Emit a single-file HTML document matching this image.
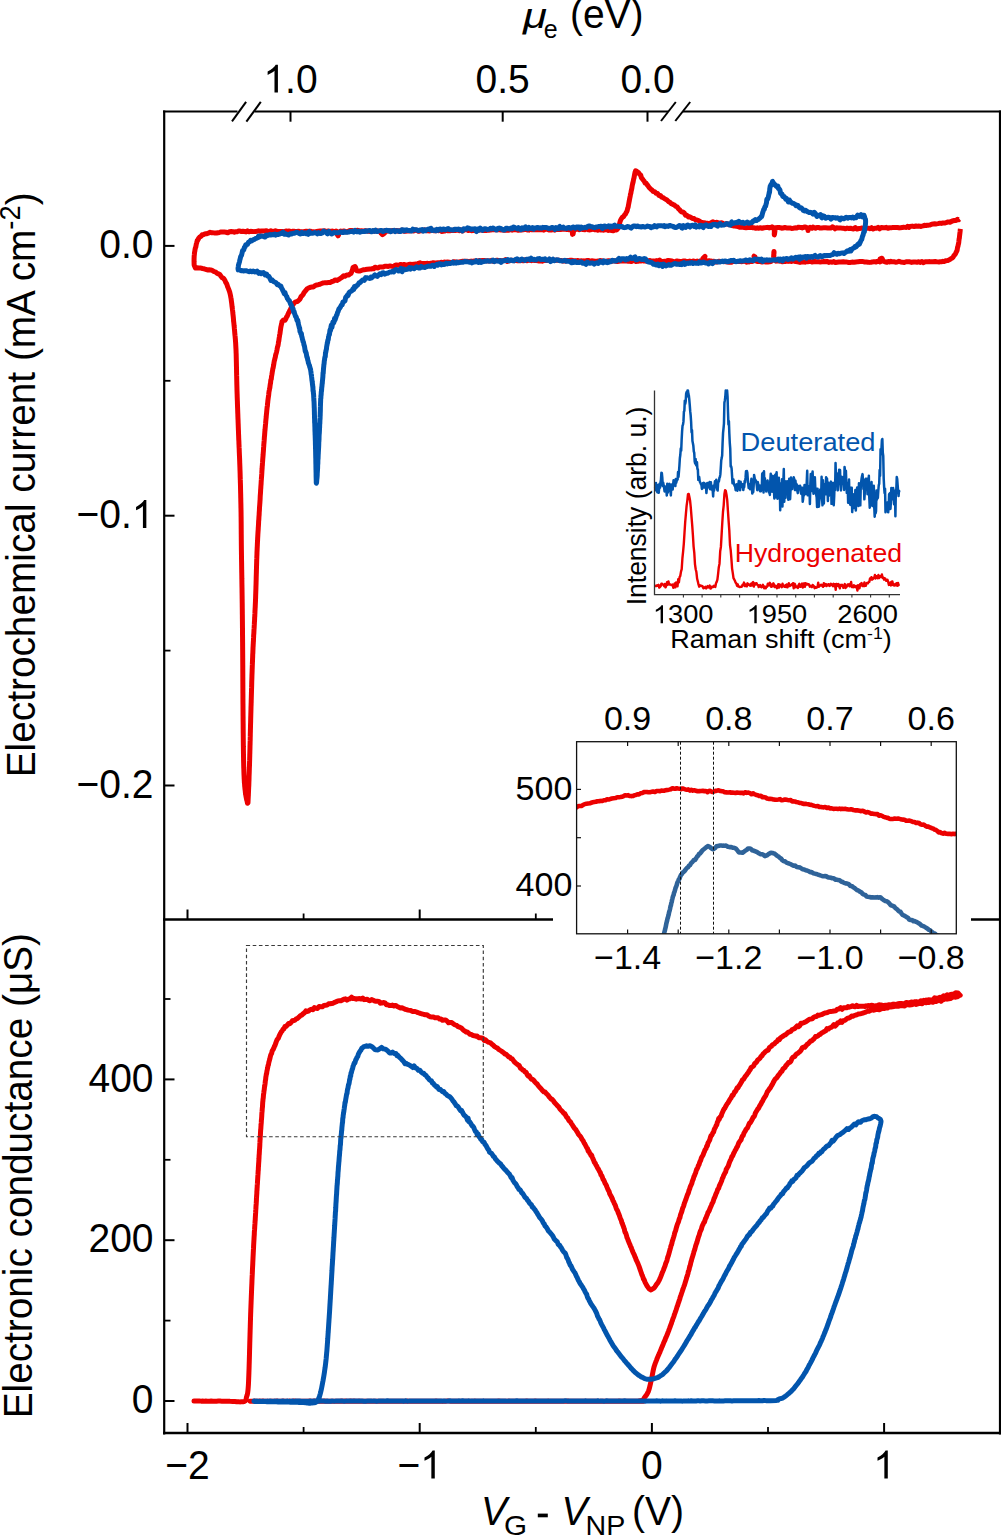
<!DOCTYPE html>
<html><head><meta charset="utf-8"><style>
html,body{margin:0;padding:0;background:#fff;overflow:hidden;}
svg{display:block;}
text{font-family:"Liberation Sans",sans-serif;fill:#000;}
</style></head><body>
<svg width="1001" height="1536" viewBox="0 0 1001 1536">
<rect width="1001" height="1536" fill="#fff"/>
<path d="M163,111.5 L237.5,111.5 M254.5,111.5 L668,111.5 M683,111.5 L1001,111.5" stroke="#000" stroke-width="2.2" fill="none"/>
<line x1="232" y1="121.3" x2="246.1" y2="101.8" stroke="#000" stroke-width="2"/>
<line x1="246.4" y1="121.7" x2="260.8" y2="101.8" stroke="#000" stroke-width="2"/>
<line x1="661" y1="121" x2="675.8" y2="102" stroke="#000" stroke-width="2"/>
<line x1="675.3" y1="121" x2="690.2" y2="102" stroke="#000" stroke-width="2"/>
<line x1="164.2" y1="110.5" x2="164.2" y2="1434.5" stroke="#000" stroke-width="2.2"/>
<line x1="1000" y1="110.5" x2="1000" y2="1434.5" stroke="#000" stroke-width="2.2"/>
<line x1="163" y1="919.5" x2="1001" y2="919.5" stroke="#000" stroke-width="2.4"/>
<line x1="163" y1="1433" x2="1001" y2="1433" stroke="#000" stroke-width="2.4"/>
<line x1="164" y1="245.9" x2="174.5" y2="245.9" stroke="#000" stroke-width="2"/>
<line x1="164" y1="515.7" x2="174.5" y2="515.7" stroke="#000" stroke-width="2"/>
<line x1="164" y1="785.5" x2="174.5" y2="785.5" stroke="#000" stroke-width="2"/>
<line x1="164" y1="380.8" x2="170.5" y2="380.8" stroke="#000" stroke-width="1.8"/>
<line x1="164" y1="650.6" x2="170.5" y2="650.6" stroke="#000" stroke-width="1.8"/>
<line x1="164" y1="1401.0" x2="174.5" y2="1401.0" stroke="#000" stroke-width="2"/>
<line x1="164" y1="1240.2" x2="174.5" y2="1240.2" stroke="#000" stroke-width="2"/>
<line x1="164" y1="1079.4" x2="174.5" y2="1079.4" stroke="#000" stroke-width="2"/>
<line x1="164" y1="1320.6" x2="170.5" y2="1320.6" stroke="#000" stroke-width="1.8"/>
<line x1="164" y1="1159.8" x2="170.5" y2="1159.8" stroke="#000" stroke-width="1.8"/>
<line x1="164" y1="999.0" x2="170.5" y2="999.0" stroke="#000" stroke-width="1.8"/>
<line x1="187.5" y1="1433" x2="187.5" y2="1423" stroke="#000" stroke-width="2"/>
<line x1="187.5" y1="919.5" x2="187.5" y2="909.5" stroke="#000" stroke-width="2"/>
<line x1="419.7" y1="1433" x2="419.7" y2="1423" stroke="#000" stroke-width="2"/>
<line x1="419.7" y1="919.5" x2="419.7" y2="909.5" stroke="#000" stroke-width="2"/>
<line x1="651.9" y1="1433" x2="651.9" y2="1423" stroke="#000" stroke-width="2"/>
<line x1="651.9" y1="919.5" x2="651.9" y2="909.5" stroke="#000" stroke-width="2"/>
<line x1="884.1" y1="1433" x2="884.1" y2="1423" stroke="#000" stroke-width="2"/>
<line x1="884.1" y1="919.5" x2="884.1" y2="909.5" stroke="#000" stroke-width="2"/>
<line x1="303.6" y1="1433" x2="303.6" y2="1427" stroke="#000" stroke-width="1.8"/>
<line x1="303.6" y1="919.5" x2="303.6" y2="913.5" stroke="#000" stroke-width="1.8"/>
<line x1="535.8" y1="1433" x2="535.8" y2="1427" stroke="#000" stroke-width="1.8"/>
<line x1="535.8" y1="919.5" x2="535.8" y2="913.5" stroke="#000" stroke-width="1.8"/>
<line x1="768.0" y1="1433" x2="768.0" y2="1427" stroke="#000" stroke-width="1.8"/>
<line x1="768.0" y1="919.5" x2="768.0" y2="913.5" stroke="#000" stroke-width="1.8"/>
<line x1="290.5" y1="111.5" x2="290.5" y2="121.7" stroke="#000" stroke-width="2"/>
<line x1="502.7" y1="111.5" x2="502.7" y2="121.7" stroke="#000" stroke-width="2"/>
<line x1="647.5" y1="111.5" x2="647.5" y2="121.7" stroke="#000" stroke-width="2"/>
<path d="M959.60,219.03 L958.68,219.71 L957.50,219.32 L956.05,220.43 L954.33,220.49 L952.31,221.00 L950.00,222.26 L948.80,221.89 L947.50,222.08 L946.09,222.61 L944.61,223.03 L943.07,222.90 L941.47,223.40 L939.83,223.14 L938.17,223.63 L936.49,223.88 L934.83,223.83 L933.18,224.02 L931.57,224.21 L930.00,224.92 L928.52,225.14 L927.12,225.28 L925.79,225.59 L924.50,225.27 L923.22,225.87 L921.92,226.13 L920.57,226.46 L919.15,226.04 L917.63,226.33 L915.98,225.90 L914.18,226.56 L912.19,226.10 L910.00,226.50 L908.82,227.45 L907.58,226.36 L906.29,227.48 L904.95,227.38 L903.56,227.22 L902.13,227.56 L900.67,227.65 L899.17,227.90 L897.63,227.52 L896.07,227.46 L894.49,227.52 L892.88,227.44 L891.25,227.83 L889.61,227.63 L887.96,228.34 L886.29,227.37 L884.63,227.69 L882.96,227.79 L881.30,227.44 L879.64,228.88 L877.99,227.41 L876.35,228.19 L874.73,228.14 L873.13,228.93 L871.55,227.68 L870.00,228.78 L868.45,228.16 L866.87,228.37 L865.27,228.20 L863.65,228.66 L862.01,228.04 L860.36,228.40 L858.70,228.55 L857.04,229.05 L855.37,227.55 L853.71,228.91 L852.04,228.69 L850.39,228.17 L848.75,228.42 L847.12,228.12 L845.51,228.84 L843.93,228.31 L842.37,228.13 L840.83,228.10 L839.33,228.09 L837.87,228.07 L836.44,227.80 L835.05,228.80 L833.71,227.39 L832.42,226.77 L831.18,227.97 L830.00,227.95 L827.76,228.09 L825.64,227.83 L823.65,227.79 L821.78,227.89 L820.03,228.03 L818.40,227.47 L816.88,227.43 L815.47,228.19 L814.17,227.67 L812.98,227.12 L811.89,228.29 L810.89,227.79 L810.00,227.39 L807.88,228.80 L808.00,230.60 L807.88,228.91 L806.00,227.23 L804.95,227.06 L803.63,227.30 L802.10,227.89 L800.42,227.41 L798.62,227.14 L796.78,227.97 L794.95,227.86 L793.17,228.21 L791.50,228.40 L790.00,227.94 L788.24,227.93 L786.50,227.92 L784.79,227.48 L783.16,228.03 L781.63,228.21 L780.24,227.72 L779.02,227.53 L778.00,227.51 L775.50,227.73 L775.11,229.33 L774.83,231.82 L774.58,233.79 L774.30,234.85 L774.26,233.52 L774.39,232.06 L774.15,229.60 L773.00,227.60 L771.98,226.87 L770.74,227.53 L769.29,227.92 L767.67,227.37 L765.90,227.60 L764.02,227.71 L762.04,228.23 L760.00,227.68 L758.68,228.31 L757.26,227.82 L755.76,228.21 L754.20,227.86 L752.59,227.72 L750.95,227.23 L749.30,227.44 L747.65,227.51 L746.01,227.75 L744.42,227.50 L742.87,227.05 L741.39,227.30 L740.00,227.35 L738.28,226.70 L736.63,226.28 L735.04,225.95 L733.50,225.99 L732.00,225.50 L730.54,224.59 L729.12,224.67 L727.73,224.01 L726.36,223.60 L725.00,224.03 L723.32,223.62 L721.65,222.84 L720.02,222.91 L718.44,222.89 L716.93,222.35 L715.51,222.44 L714.19,222.65 L713.00,221.77 L711.08,222.72 L709.62,223.30 L708.36,223.63 L707.00,223.13 L705.59,223.53 L704.23,222.74 L702.76,222.69 L701.00,222.01 L699.80,221.41 L698.46,220.52 L697.03,219.99 L695.55,219.87 L694.08,218.60 L692.64,218.43 L691.30,217.78 L689.81,216.74 L688.34,216.90 L686.92,215.30 L685.54,215.22 L684.23,212.94 L683.00,212.01 L681.69,212.11 L680.55,210.93 L679.47,209.52 L678.32,208.51 L677.00,206.73 L675.74,206.22 L674.39,205.10 L672.97,204.40 L671.50,203.78 L670.00,202.46 L668.50,201.53 L667.19,200.24 L665.83,199.39 L664.44,198.62 L663.05,197.52 L661.66,197.10 L660.31,195.41 L659.00,195.46 L657.52,193.45 L656.07,193.22 L654.66,191.64 L653.27,191.53 L651.92,189.98 L650.60,188.94 L649.48,187.97 L648.35,186.28 L647.24,184.88 L646.17,183.25 L645.16,183.12 L644.23,181.25 L643.40,180.19 L642.26,178.65 L641.41,177.76 L640.66,175.03 L639.80,174.49 L638.38,172.55 L636.89,171.50 L635.60,170.77 L635.10,172.15 L634.69,173.96 L634.33,175.96 L633.98,177.96 L633.61,179.20 L633.20,181.62 L632.89,182.99 L632.56,184.08 L632.22,185.67 L631.87,188.11 L631.53,189.62 L631.18,191.17 L630.84,193.31 L630.51,194.13 L630.20,196.18 L629.87,197.66 L629.56,199.29 L629.26,201.11 L628.96,202.59 L628.67,204.14 L628.39,205.57 L628.10,207.48 L627.80,207.89 L627.26,210.28 L626.75,211.59 L626.17,212.52 L625.40,214.28 L624.57,214.84 L623.60,216.64 L622.55,217.06 L621.52,218.40 L620.60,220.11 L620.03,221.78 L619.62,223.55 L619.25,225.40 L618.78,226.79 L618.07,228.06 L617.00,229.69 L615.92,230.11 L614.66,229.97 L613.25,230.77 L611.71,230.49 L610.09,230.01 L608.41,230.39 L606.70,229.67 L605.00,229.79 L603.63,230.23 L602.21,229.52 L600.75,230.03 L599.26,229.48 L597.75,230.15 L596.22,229.56 L594.67,229.81 L593.11,229.16 L591.55,229.51 L590.00,229.93 L588.38,229.72 L586.63,228.84 L584.82,229.72 L582.98,229.62 L581.16,229.10 L579.40,229.68 L577.77,228.82 L576.29,229.22 L575.02,229.77 L574.00,230.06 L572.43,231.85 L572.46,233.42 L572.50,234.38 L573.09,233.93 L573.69,230.88 L571.00,229.55 L570.13,229.04 L569.16,229.76 L568.08,229.61 L566.91,229.48 L565.65,229.26 L564.31,229.26 L562.89,229.15 L561.40,229.41 L559.84,229.40 L558.22,229.51 L556.55,229.25 L554.82,230.12 L553.06,229.61 L551.26,230.05 L549.43,230.08 L547.57,229.36 L545.69,229.13 L543.80,230.19 L541.90,229.65 L540.00,229.83 L538.72,229.72 L537.41,229.86 L536.07,229.40 L534.70,229.79 L533.31,229.67 L531.90,229.83 L530.46,229.02 L529.00,230.13 L527.53,229.97 L526.04,229.25 L524.53,229.60 L523.01,229.88 L521.47,230.09 L519.93,229.88 L518.38,230.37 L516.81,229.89 L515.24,229.54 L513.67,229.66 L512.10,230.16 L510.52,229.70 L508.94,230.21 L507.37,230.28 L505.79,230.14 L504.22,230.30 L502.66,229.89 L501.11,229.95 L499.56,229.76 L498.03,229.76 L496.51,229.44 L495.00,229.81 L493.49,229.64 L491.97,229.53 L490.43,230.09 L488.88,230.21 L487.33,229.95 L485.76,230.56 L484.19,230.43 L482.61,230.48 L481.03,229.92 L479.44,229.63 L477.86,230.37 L476.28,230.30 L474.70,230.46 L473.13,230.37 L471.56,230.68 L470.00,230.16 L468.46,230.51 L466.92,229.99 L465.40,229.51 L463.89,230.18 L462.40,230.88 L460.92,229.79 L459.47,230.75 L458.04,230.17 L456.63,230.28 L455.25,230.46 L453.89,230.53 L452.56,230.13 L451.27,230.53 L450.00,230.66 L448.17,230.81 L446.42,230.27 L444.74,231.10 L443.14,231.24 L441.59,231.44 L440.09,230.14 L438.63,230.68 L437.21,229.99 L435.81,230.79 L434.44,230.86 L433.07,230.28 L431.71,230.14 L430.35,230.78 L428.97,230.94 L427.57,230.46 L426.14,230.66 L424.68,229.88 L423.18,230.53 L421.62,230.84 L420.00,230.85 L418.59,231.36 L417.10,230.41 L415.55,230.02 L413.95,230.95 L412.30,230.58 L410.61,230.87 L408.90,231.00 L407.17,230.94 L405.42,231.22 L403.68,231.17 L401.94,230.10 L400.22,230.65 L398.52,231.36 L396.86,230.51 L395.24,230.99 L393.67,230.64 L392.16,230.52 L390.71,231.24 L389.35,231.08 L388.07,230.66 L386.89,231.11 L385.81,230.39 L384.84,230.67 L384.00,231.32 L381.09,233.26 L382.50,234.63 L384.22,233.49 L381.00,231.32 L380.13,231.59 L379.12,231.42 L377.96,230.93 L376.68,230.82 L375.29,230.90 L373.79,230.83 L372.21,231.39 L370.54,231.41 L368.81,231.32 L367.03,230.96 L365.20,230.74 L363.35,231.14 L361.47,230.70 L359.59,230.92 L357.71,230.27 L355.86,230.73 L354.03,231.41 L352.24,230.58 L350.51,230.45 L348.84,230.96 L347.25,231.66 L345.75,231.64 L344.35,231.07 L343.06,231.09 L341.90,231.30 L340.87,231.09 L340.00,231.51 L336.44,232.92 L337.22,234.49 L338.00,235.80 L338.59,234.91 L339.19,232.69 L336.00,231.11 L335.15,231.73 L334.19,232.01 L333.12,231.20 L331.96,231.11 L330.70,231.40 L329.37,231.13 L327.96,230.93 L326.48,231.70 L324.95,230.86 L323.36,230.98 L321.73,231.03 L320.06,230.98 L318.37,231.24 L316.65,231.56 L314.92,231.90 L313.19,231.67 L311.45,231.48 L309.73,231.06 L308.02,231.51 L306.34,231.23 L304.68,231.55 L303.07,231.94 L301.51,231.67 L300.00,231.53 L298.46,231.33 L296.91,231.57 L295.36,231.60 L293.82,231.22 L292.27,231.35 L290.72,231.81 L289.18,230.90 L287.63,231.30 L286.09,231.02 L284.55,231.94 L283.02,231.58 L281.48,231.52 L279.96,231.46 L278.43,231.39 L276.91,231.37 L275.40,230.69 L273.89,231.32 L272.39,231.42 L270.90,230.70 L269.41,231.49 L267.93,231.43 L266.46,230.66 L265.00,231.03 L263.40,231.10 L261.80,231.04 L260.20,231.38 L258.60,230.82 L257.00,231.22 L255.41,231.41 L253.81,231.62 L252.23,231.42 L250.66,231.35 L249.09,231.72 L247.54,230.83 L246.00,231.89 L244.47,231.50 L242.96,231.22 L241.47,231.56 L240.00,231.11 L238.55,231.09 L237.13,231.74 L235.72,231.63 L234.35,232.21 L233.00,231.69 L231.25,231.61 L229.51,231.78 L227.78,232.78 L226.06,232.24 L224.37,232.08 L222.71,232.00 L221.08,232.03 L219.50,232.42 L217.96,232.69 L216.48,233.02 L215.05,233.09 L213.69,232.87 L212.40,232.64 L211.18,232.67 L210.05,232.27 L209.00,232.84 L206.30,233.79 L204.42,234.03 L203.09,234.85 L202.04,234.87 L201.00,236.31 L199.55,237.20 L198.63,238.34 L197.80,240.14 L197.25,240.56 L196.72,242.72 L196.24,244.29 L195.79,246.97 L195.40,247.94 L195.06,249.40 L194.78,251.42 L194.54,252.32 L194.34,254.80 L194.20,255.75 L194.12,257.57 L194.07,259.03 L194.05,261.43 L194.07,262.11 L194.12,264.64 L194.20,265.31 L195.40,268.02 L196.85,267.70 L198.79,268.02 L201.00,268.07 L202.47,268.48 L204.10,268.77 L205.80,269.32 L207.46,269.92 L209.00,269.86 L210.73,270.04 L212.35,270.43 L213.89,271.60 L215.40,271.87 L216.89,273.21 L218.35,273.84 L219.73,274.54 L221.00,276.32 L222.13,277.77 L223.15,278.14 L224.09,279.08 L225.00,280.50 L225.70,282.39 L226.38,283.26 L227.02,284.81 L227.62,286.71 L228.20,288.00 L228.74,289.49 L229.24,290.66 L229.71,292.11 L230.16,294.06 L230.60,296.05 L230.83,297.47 L231.05,298.42 L231.27,300.12 L231.47,301.65 L231.68,303.07 L231.88,304.87 L232.08,306.72 L232.29,308.22 L232.50,310.03 L232.65,311.00 L232.81,312.86 L232.96,314.17 L233.12,315.60 L233.28,316.97 L233.45,319.03 L233.60,321.32 L233.76,322.19 L233.92,323.68 L234.07,325.41 L234.22,326.66 L234.36,328.48 L234.50,329.77 L234.63,331.26 L234.76,332.96 L234.89,334.29 L235.01,335.46 L235.14,336.50 L235.25,338.18 L235.37,339.05 L235.48,341.12 L235.59,342.25 L235.70,344.02 L235.80,346.10 L235.90,348.00 L236.00,349.55 L236.05,351.10 L236.09,352.55 L236.14,353.33 L236.18,354.21 L236.22,356.41 L236.26,357.85 L236.29,359.48 L236.33,360.86 L236.37,362.41 L236.40,364.01 L236.44,366.00 L236.47,367.29 L236.51,368.94 L236.54,370.25 L236.57,372.44 L236.61,373.64 L236.64,375.63 L236.68,376.30 L236.72,378.79 L236.75,380.33 L236.79,381.85 L236.83,384.10 L236.87,385.41 L236.91,386.82 L236.95,388.26 L237.00,390.66 L237.05,391.80 L237.09,393.31 L237.14,394.35 L237.19,396.61 L237.24,397.89 L237.29,399.14 L237.34,400.73 L237.39,401.74 L237.45,404.07 L237.50,405.00 L237.55,407.22 L237.61,408.31 L237.66,409.78 L237.72,411.67 L237.77,413.15 L237.83,414.22 L237.88,416.13 L237.94,417.90 L238.00,419.14 L238.06,420.30 L238.11,422.22 L238.17,423.51 L238.23,425.18 L238.28,426.94 L238.34,428.44 L238.40,429.93 L238.46,430.96 L238.52,433.20 L238.58,434.55 L238.64,436.01 L238.70,437.75 L238.77,439.90 L238.83,440.32 L238.90,441.75 L238.96,444.11 L239.03,445.11 L239.09,447.38 L239.16,448.12 L239.23,449.83 L239.29,451.83 L239.35,453.39 L239.42,454.77 L239.48,456.31 L239.55,457.65 L239.61,459.08 L239.67,460.70 L239.73,462.75 L239.78,464.09 L239.84,465.39 L239.90,467.03 L239.95,468.75 L240.00,470.41 L240.05,471.49 L240.10,473.05 L240.15,474.73 L240.19,477.06 L240.24,477.78 L240.28,479.67 L240.33,480.24 L240.37,482.60 L240.41,483.36 L240.46,485.01 L240.50,486.70 L240.54,488.41 L240.57,490.06 L240.61,491.67 L240.65,493.16 L240.69,494.46 L240.72,497.06 L240.76,497.83 L240.79,499.46 L240.82,501.47 L240.85,502.64 L240.89,504.05 L240.92,505.50 L240.94,507.57 L240.97,508.09 L241.00,509.67 L241.03,511.58 L241.05,512.33 L241.07,514.27 L241.09,516.42 L241.11,517.34 L241.13,519.03 L241.14,520.67 L241.15,521.49 L241.17,523.44 L241.18,524.59 L241.19,525.89 L241.20,527.64 L241.21,529.19 L241.22,530.55 L241.23,531.95 L241.24,534.02 L241.26,535.61 L241.27,536.95 L241.28,538.28 L241.29,539.54 L241.31,541.23 L241.32,542.76 L241.34,544.88 L241.36,546.82 L241.38,548.55 L241.40,549.99 L241.42,551.20 L241.44,552.75 L241.46,554.10 L241.48,555.66 L241.50,557.37 L241.52,558.05 L241.54,560.45 L241.56,560.45 L241.58,562.03 L241.61,563.61 L241.63,565.27 L241.66,567.05 L241.68,569.36 L241.71,569.92 L241.73,572.08 L241.76,573.11 L241.78,574.83 L241.81,575.98 L241.83,578.68 L241.86,579.43 L241.88,580.80 L241.91,583.36 L241.93,584.20 L241.96,585.85 L241.98,587.22 L242.01,588.55 L242.03,589.90 L242.05,591.90 L242.08,594.07 L242.10,595.21 L242.12,596.54 L242.14,598.51 L242.16,599.35 L242.18,601.67 L242.20,602.69 L242.22,603.92 L242.24,605.95 L242.25,607.40 L242.27,608.60 L242.29,610.30 L242.31,612.07 L242.32,613.73 L242.34,614.45 L242.35,615.34 L242.37,618.47 L242.39,619.18 L242.40,620.63 L242.42,622.43 L242.43,623.64 L242.45,625.65 L242.46,626.37 L242.47,628.23 L242.49,629.37 L242.50,631.84 L242.52,632.74 L242.53,634.71 L242.54,636.31 L242.55,636.92 L242.57,638.77 L242.58,640.60 L242.59,641.87 L242.61,643.31 L242.62,645.16 L242.63,646.69 L242.64,647.67 L242.65,649.33 L242.67,651.11 L242.68,652.46 L242.69,653.94 L242.70,655.01 L242.71,657.51 L242.72,658.33 L242.73,660.00 L242.74,661.40 L242.75,662.94 L242.76,664.47 L242.77,665.63 L242.78,667.55 L242.78,669.34 L242.79,670.56 L242.80,672.18 L242.81,673.59 L242.81,674.94 L242.82,677.06 L242.83,677.69 L242.83,679.56 L242.84,681.29 L242.85,682.53 L242.85,683.57 L242.86,685.06 L242.87,687.48 L242.88,688.11 L242.88,689.94 L242.89,691.63 L242.90,692.98 L242.91,693.83 L242.92,695.29 L242.92,697.42 L242.93,698.69 L242.94,700.37 L242.95,702.00 L242.96,703.53 L242.98,704.52 L242.99,705.91 L243.00,708.33 L243.01,709.30 L243.03,710.65 L243.04,711.93 L243.05,714.38 L243.06,715.35 L243.08,717.03 L243.09,719.22 L243.10,720.74 L243.12,722.46 L243.13,723.46 L243.15,724.55 L243.16,726.84 L243.17,728.72 L243.19,730.24 L243.20,732.41 L243.22,733.86 L243.24,734.99 L243.25,737.16 L243.27,738.52 L243.29,739.99 L243.30,742.12 L243.32,742.70 L243.34,745.17 L243.36,746.70 L243.38,747.10 L243.40,749.21 L243.42,750.66 L243.44,751.73 L243.46,753.30 L243.48,754.56 L243.50,756.17 L243.53,757.23 L243.55,757.91 L243.57,760.27 L243.60,761.31 L243.65,762.96 L243.70,765.66 L243.76,768.04 L243.81,768.64 L243.86,770.79 L243.92,772.39 L243.98,774.32 L244.04,775.50 L244.10,776.52 L244.17,778.79 L244.24,779.54 L244.32,781.16 L244.40,782.94 L244.49,783.10 L244.59,784.42 L244.69,786.09 L244.80,786.96 L245.02,789.29 L245.27,791.21 L245.56,794.24 L245.86,795.45 L246.18,797.18 L246.48,798.78 L246.78,800.34 L247.06,800.86 L247.30,802.28 L247.50,803.26 L247.82,803.10 L247.99,802.70 L248.11,800.22 L248.30,795.82 L248.35,795.93 L248.39,794.28 L248.44,793.07 L248.50,791.52 L248.55,790.62 L248.60,789.21 L248.66,787.96 L248.71,786.68 L248.77,786.05 L248.83,784.16 L248.88,782.76 L248.94,781.06 L249.00,779.95 L249.06,777.07 L249.12,775.16 L249.18,773.95 L249.24,772.21 L249.30,770.34 L249.36,768.29 L249.42,766.90 L249.48,765.40 L249.54,762.98 L249.60,760.92 L249.64,760.15 L249.68,758.32 L249.72,756.98 L249.75,755.86 L249.79,753.57 L249.83,753.63 L249.87,751.51 L249.91,750.28 L249.95,748.75 L249.98,747.30 L250.02,745.19 L250.06,744.77 L250.10,742.82 L250.14,741.18 L250.18,740.63 L250.22,737.52 L250.26,736.65 L250.29,734.78 L250.33,732.70 L250.37,732.31 L250.41,729.49 L250.45,728.49 L250.49,726.81 L250.53,725.30 L250.58,723.31 L250.62,722.52 L250.66,720.54 L250.70,718.42 L250.74,716.86 L250.78,715.81 L250.83,713.74 L250.87,712.74 L250.91,711.16 L250.96,709.31 L251.00,707.33 L251.04,706.04 L251.09,705.11 L251.13,703.30 L251.18,702.62 L251.22,700.31 L251.26,699.10 L251.30,697.70 L251.35,695.99 L251.39,694.56 L251.43,693.30 L251.48,691.39 L251.52,690.06 L251.57,688.31 L251.61,687.64 L251.66,685.50 L251.70,684.23 L251.75,681.39 L251.79,680.76 L251.84,679.04 L251.89,677.94 L251.93,676.27 L251.98,674.56 L252.03,673.33 L252.08,672.21 L252.13,670.80 L252.18,668.74 L252.24,667.79 L252.29,665.71 L252.35,664.64 L252.40,662.62 L252.46,661.78 L252.52,660.73 L252.58,658.31 L252.64,657.33 L252.70,654.89 L252.76,653.68 L252.83,653.33 L252.90,650.86 L252.97,649.56 L253.04,647.31 L253.12,646.37 L253.19,644.59 L253.27,643.78 L253.35,641.67 L253.43,641.25 L253.51,638.46 L253.59,637.46 L253.67,635.13 L253.76,634.19 L253.84,633.25 L253.92,631.28 L254.01,629.36 L254.09,628.48 L254.18,627.13 L254.26,625.45 L254.34,624.13 L254.43,621.78 L254.51,621.41 L254.59,619.52 L254.67,617.02 L254.75,616.91 L254.83,614.58 L254.91,613.42 L254.98,611.04 L255.06,610.01 L255.13,608.08 L255.20,607.51 L255.27,605.63 L255.34,603.88 L255.40,602.57 L255.46,601.58 L255.52,599.40 L255.58,598.34 L255.64,596.19 L255.69,594.48 L255.74,593.34 L255.79,591.86 L255.84,590.46 L255.89,589.17 L255.94,587.13 L255.99,585.58 L256.03,584.41 L256.08,582.73 L256.12,580.99 L256.17,579.53 L256.21,577.12 L256.25,576.14 L256.30,574.22 L256.34,573.11 L256.38,572.01 L256.42,569.58 L256.47,568.97 L256.51,566.93 L256.56,565.55 L256.60,563.97 L256.64,562.90 L256.69,560.95 L256.74,559.00 L256.79,558.40 L256.83,556.81 L256.88,555.67 L256.94,554.27 L256.99,552.27 L257.04,551.41 L257.10,550.04 L257.18,548.21 L257.26,546.54 L257.34,544.92 L257.42,542.95 L257.50,541.46 L257.58,540.25 L257.67,537.95 L257.75,536.73 L257.84,534.86 L257.93,533.32 L258.02,532.04 L258.10,530.75 L258.19,529.74 L258.28,527.66 L258.37,526.59 L258.47,525.00 L258.56,523.37 L258.65,520.81 L258.74,520.48 L258.84,518.99 L258.93,517.14 L259.02,516.07 L259.12,515.06 L259.21,512.64 L259.31,511.35 L259.40,510.32 L259.49,507.83 L259.59,506.56 L259.68,505.49 L259.78,504.18 L259.88,502.73 L259.97,501.03 L260.07,500.04 L260.16,497.83 L260.26,495.70 L260.36,494.55 L260.46,493.30 L260.56,491.67 L260.66,489.32 L260.76,488.60 L260.86,486.65 L260.96,485.32 L261.06,484.36 L261.16,482.25 L261.26,480.54 L261.37,479.19 L261.47,477.47 L261.57,476.87 L261.68,474.90 L261.79,473.40 L261.89,471.30 L262.00,469.78 L262.11,468.54 L262.22,466.13 L262.33,465.68 L262.44,463.30 L262.55,462.19 L262.66,460.68 L262.78,458.69 L262.89,457.49 L263.01,456.01 L263.12,454.83 L263.24,452.70 L263.36,451.60 L263.48,449.54 L263.59,447.72 L263.71,446.52 L263.83,444.47 L263.95,443.16 L264.06,441.79 L264.18,440.45 L264.30,438.64 L264.42,436.55 L264.53,436.06 L264.65,434.22 L264.77,432.65 L264.88,431.08 L265.00,430.20 L265.15,428.38 L265.30,426.79 L265.45,424.82 L265.60,423.74 L265.75,421.47 L265.90,420.09 L266.05,418.43 L266.20,417.17 L266.35,415.02 L266.50,413.65 L266.65,412.19 L266.80,410.57 L266.95,409.13 L267.10,407.53 L267.25,406.82 L267.40,405.72 L267.55,403.52 L267.70,402.82 L267.85,400.86 L268.00,399.72 L268.23,398.01 L268.46,396.38 L268.69,394.80 L268.92,392.34 L269.15,390.98 L269.38,389.96 L269.62,388.37 L269.85,387.76 L270.08,385.51 L270.31,383.98 L270.54,383.23 L270.77,380.48 L271.00,379.35 L271.27,379.29 L271.53,376.52 L271.79,375.20 L272.05,373.57 L272.31,371.81 L272.57,370.57 L272.84,368.67 L273.11,367.96 L273.39,366.38 L273.69,364.81 L274.00,362.68 L274.30,360.87 L274.61,359.95 L274.93,358.30 L275.26,357.39 L275.60,355.26 L275.94,354.05 L276.28,352.95 L276.63,351.56 L276.98,349.91 L277.32,347.86 L277.66,346.44 L278.00,345.70 L278.27,343.90 L278.54,341.73 L278.82,341.05 L279.09,338.63 L279.37,336.92 L279.65,334.86 L279.92,333.91 L280.20,331.67 L280.47,329.90 L280.74,327.97 L281.01,326.31 L281.26,325.40 L281.52,324.05 L281.76,323.48 L282.00,321.68 L283.50,319.93 L285.00,320.34 L285.72,319.08 L286.48,317.04 L287.28,316.07 L288.12,313.92 L289.00,312.31 L289.78,310.61 L290.59,309.19 L291.44,307.04 L292.30,305.52 L293.16,304.54 L294.00,303.14 L295.67,301.83 L297.33,301.47 L299.00,300.08 L300.02,298.96 L301.05,296.62 L302.07,295.66 L303.06,294.62 L304.00,292.69 L305.07,291.41 L306.06,290.20 L307.02,288.87 L308.00,288.30 L309.75,287.54 L312.00,286.94 L313.31,286.89 L314.82,285.77 L316.46,284.97 L318.21,284.68 L320.00,284.22 L321.59,283.56 L323.30,282.88 L325.06,282.76 L326.81,282.71 L328.48,282.56 L330.00,282.62 L331.94,281.49 L333.62,281.05 L335.25,279.89 L337.00,280.44 L338.57,279.63 L340.22,278.50 L341.90,277.37 L343.51,275.85 L345.00,276.25 L346.73,274.95 L348.38,275.09 L349.83,274.13 L351.00,273.45 L351.96,271.32 L352.48,269.93 L353.00,267.51 L355.00,266.51 L355.56,267.34 L356.11,269.07 L357.00,270.86 L358.33,270.94 L360.00,271.05 L362.00,270.25 L363.14,269.82 L364.17,269.86 L365.43,269.57 L367.26,269.33 L370.00,269.04 L371.10,269.07 L372.31,268.59 L373.64,268.83 L375.05,267.18 L376.56,267.81 L378.13,267.93 L379.76,266.92 L381.44,267.08 L383.15,266.99 L384.88,266.15 L386.62,266.26 L388.35,266.46 L390.07,265.93 L391.76,266.38 L393.41,266.49 L395.00,265.47 L396.52,264.95 L397.95,265.20 L399.33,264.90 L400.66,264.48 L401.97,264.74 L403.28,264.62 L404.59,264.56 L405.94,264.92 L407.33,264.88 L408.79,264.57 L410.34,264.21 L411.99,264.39 L413.77,264.15 L415.68,264.12 L417.75,263.59 L420.00,262.72 L421.16,264.04 L422.36,263.46 L423.61,263.42 L424.89,263.52 L426.21,263.43 L427.57,263.27 L428.96,263.83 L430.38,263.26 L431.83,263.21 L433.31,262.74 L434.81,262.93 L436.34,263.05 L437.89,262.77 L439.45,262.83 L441.04,262.30 L442.63,262.68 L444.24,262.11 L445.86,262.23 L447.49,262.03 L449.13,262.28 L450.77,262.51 L452.41,262.15 L454.05,261.67 L455.69,261.94 L457.32,262.18 L458.95,262.00 L460.57,261.85 L462.18,261.21 L463.78,261.34 L465.36,261.24 L466.93,261.25 L468.47,261.43 L470.00,261.31 L471.52,261.12 L473.05,261.39 L474.58,260.90 L476.13,260.99 L477.67,261.09 L479.23,260.54 L480.78,260.67 L482.34,260.44 L483.91,260.52 L485.47,260.80 L487.04,260.77 L488.60,260.89 L490.17,260.85 L491.73,260.31 L493.29,261.32 L494.85,261.12 L496.40,260.19 L497.95,260.35 L499.49,260.39 L501.03,260.60 L502.55,260.72 L504.07,260.49 L505.58,259.57 L507.08,261.44 L508.57,260.72 L510.05,260.69 L511.52,260.13 L512.97,260.41 L514.41,260.68 L515.83,260.18 L517.24,260.72 L518.63,260.34 L520.00,260.85 L521.72,260.30 L523.40,260.79 L525.07,259.71 L526.70,260.76 L528.32,260.41 L529.91,260.12 L531.49,260.63 L533.05,260.17 L534.59,260.55 L536.11,260.61 L537.63,260.65 L539.13,261.06 L540.62,260.78 L542.11,261.19 L543.59,260.58 L545.07,260.40 L546.55,260.50 L548.02,260.36 L549.50,259.96 L550.97,260.46 L552.46,260.01 L553.95,260.34 L555.44,260.35 L556.95,260.28 L558.47,260.11 L560.00,260.54 L561.53,260.51 L563.05,261.01 L564.56,260.77 L566.05,260.89 L567.54,260.42 L569.03,260.50 L570.50,260.19 L571.98,260.34 L573.45,260.92 L574.93,260.63 L576.41,260.67 L577.89,260.54 L579.38,261.30 L580.87,260.77 L582.37,261.20 L583.89,260.82 L585.41,261.18 L586.95,260.54 L588.51,260.42 L590.09,261.30 L591.68,260.82 L593.30,261.04 L594.93,261.27 L596.60,261.22 L598.28,261.08 L600.00,260.59 L601.37,260.76 L602.76,261.03 L604.17,261.24 L605.59,261.20 L607.03,261.15 L608.48,260.76 L609.95,261.03 L611.43,261.37 L612.92,260.73 L614.42,260.84 L615.93,261.35 L617.45,261.59 L618.97,261.18 L620.51,261.04 L622.05,260.70 L623.60,260.99 L625.15,260.75 L626.71,261.08 L628.27,261.27 L629.83,261.18 L631.40,261.47 L632.96,260.66 L634.53,260.58 L636.09,261.49 L637.66,261.37 L639.22,260.67 L640.77,261.05 L642.33,260.63 L643.87,261.00 L645.42,261.11 L646.95,261.33 L648.48,260.66 L650.00,260.56 L651.54,261.20 L653.11,260.89 L654.72,261.50 L656.36,260.62 L658.03,260.80 L659.73,260.09 L661.44,261.45 L663.17,261.53 L664.91,261.23 L666.66,260.99 L668.41,260.41 L670.16,260.65 L671.91,260.96 L673.65,261.82 L675.38,261.48 L677.09,260.97 L678.78,261.34 L680.45,261.40 L682.09,261.39 L683.70,260.90 L685.28,261.07 L686.81,261.57 L688.31,261.46 L689.75,261.10 L691.15,262.06 L692.49,261.30 L693.77,261.04 L694.99,261.48 L696.14,261.42 L697.22,261.07 L698.23,261.71 L699.15,261.42 L700.00,261.01 L704.50,259.84 L703.00,258.23 L705.00,256.40 L704.07,257.98 L703.15,259.43 L707.00,260.92 L707.85,261.30 L708.84,260.71 L709.95,261.09 L711.18,260.93 L712.51,261.57 L713.94,261.17 L715.45,262.05 L717.04,261.99 L718.69,261.25 L720.41,261.58 L722.17,261.42 L723.97,261.56 L725.80,261.82 L727.64,262.11 L729.50,262.35 L731.36,262.24 L733.20,261.15 L735.03,261.41 L736.83,261.50 L738.59,261.43 L740.31,261.56 L741.96,261.70 L743.55,261.28 L745.06,261.19 L746.49,262.16 L747.82,261.53 L749.05,261.98 L750.16,260.96 L751.15,261.56 L752.00,261.59 L755.85,259.80 L754.93,256.85 L754.00,256.19 L754.15,256.85 L754.30,258.95 L756.00,261.00 L757.10,261.42 L758.53,261.39 L760.21,261.62 L762.06,262.01 L764.00,261.64 L765.94,262.04 L767.79,262.09 L769.47,261.89 L770.90,261.59 L772.00,260.66 L773.14,259.72 L773.70,257.87 L773.88,256.22 L773.85,253.43 L773.83,252.64 L774.00,251.45 L774.05,252.93 L773.74,254.32 L773.62,256.82 L774.19,259.33 L776.00,261.10 L776.85,260.43 L777.77,261.03 L778.77,260.48 L779.84,261.22 L781.00,261.15 L782.25,261.68 L783.58,261.45 L785.00,261.54 L786.52,261.12 L788.13,261.38 L789.84,261.09 L791.66,261.47 L793.58,260.90 L795.61,261.55 L797.75,261.85 L800.00,262.41 L801.15,262.05 L802.37,262.01 L803.64,261.85 L804.97,262.15 L806.35,261.60 L807.78,261.78 L809.25,261.01 L810.76,261.51 L812.30,262.10 L813.88,261.13 L815.48,261.86 L817.11,261.75 L818.76,261.66 L820.42,261.91 L822.10,261.83 L823.78,261.45 L825.47,261.83 L827.16,261.25 L828.85,262.41 L830.53,261.90 L832.20,262.23 L833.85,261.61 L835.49,262.58 L837.10,262.31 L838.69,262.08 L840.25,262.05 L841.77,262.11 L843.26,261.74 L844.71,261.95 L846.11,261.92 L847.46,262.13 L848.76,262.54 L850.00,262.41 L851.98,262.10 L853.94,262.23 L855.85,261.91 L857.73,261.85 L859.56,261.46 L861.35,261.58 L863.09,261.61 L864.78,262.00 L866.42,261.95 L868.00,262.16 L869.52,262.39 L870.98,262.20 L872.37,261.89 L873.69,261.75 L874.94,261.76 L876.11,262.03 L877.21,261.44 L878.22,261.16 L879.16,261.52 L880.00,261.87 L882.75,259.93 L882.00,258.21 L880.25,258.84 L884.00,261.45 L884.86,261.81 L885.85,262.01 L886.95,262.32 L888.16,261.41 L889.47,261.91 L890.86,261.28 L892.34,261.78 L893.89,261.76 L895.51,262.21 L897.19,262.01 L898.91,261.36 L900.67,261.95 L902.47,262.14 L904.29,262.53 L906.12,261.78 L907.97,261.74 L909.81,261.85 L911.65,262.41 L913.47,261.96 L915.26,262.09 L917.02,262.21 L918.74,261.77 L920.41,262.43 L922.02,261.48 L923.56,262.68 L925.03,261.80 L926.42,261.71 L927.71,261.76 L928.91,261.61 L930.00,261.70 L932.85,261.70 L935.25,261.56 L937.26,261.88 L938.94,262.01 L940.38,261.64 L941.62,261.83 L942.73,261.35 L943.79,261.56 L944.86,261.16 L946.00,260.62 L947.84,260.49 L949.41,259.76 L950.75,258.83 L951.93,258.17 L952.99,257.36 L954.00,255.57 L954.80,254.72 L955.48,253.93 L956.08,252.43 L956.61,251.31 L957.09,250.35 L957.55,247.41 L958.00,246.13 L958.29,244.53 L958.57,243.60 L958.83,241.61 L959.09,239.14 L959.33,238.16 L959.56,235.98 L959.77,234.12 L959.96,232.61 L960.13,231.23 L960.28,229.64 L960.40,228.87" fill="none" stroke="#ec0000" stroke-width="5.0" stroke-linejoin="round" stroke-linecap="butt"/>
<path d="M864.00,215.17 L863.18,215.29 L862.07,216.68 L860.75,214.76 L859.27,216.43 L857.70,215.13 L856.10,217.67 L855.02,217.19 L853.89,218.17 L852.71,217.05 L851.50,217.88 L850.25,217.59 L848.96,217.45 L847.64,218.22 L846.29,217.35 L844.90,218.05 L843.73,218.81 L842.52,218.37 L841.28,218.03 L840.02,219.82 L838.73,218.28 L837.42,217.77 L836.11,218.21 L834.79,217.63 L833.48,217.61 L832.18,217.51 L830.90,219.02 L829.62,217.45 L828.32,217.36 L827.01,217.50 L825.69,218.21 L824.38,216.39 L823.07,215.85 L821.78,217.74 L820.52,214.70 L819.28,215.17 L818.07,215.58 L816.90,216.40 L815.52,213.74 L814.19,212.29 L812.90,214.02 L811.65,212.74 L810.42,212.37 L809.22,212.48 L808.03,211.81 L806.86,211.34 L805.70,210.30 L804.55,210.94 L803.42,210.49 L802.31,208.83 L801.21,207.85 L800.14,208.03 L799.08,207.20 L798.04,205.50 L797.01,205.28 L796.00,205.73 L794.87,204.30 L793.74,203.53 L792.63,203.32 L791.54,202.57 L790.49,202.01 L789.47,200.06 L788.51,202.00 L787.60,200.24 L786.65,198.68 L785.80,199.15 L785.00,197.82 L784.25,196.73 L783.52,196.53 L782.78,196.41 L782.00,194.19 L781.30,193.92 L780.58,193.21 L779.87,189.81 L779.16,188.97 L778.45,188.72 L777.75,185.91 L777.07,185.98 L776.40,186.31 L775.08,184.83 L773.77,183.49 L772.56,181.37 L771.50,184.95 L771.14,184.31 L770.82,185.33 L770.53,186.21 L770.26,185.88 L770.01,187.41 L769.77,188.97 L769.53,192.58 L769.27,192.06 L769.00,193.81 L768.70,195.02 L768.35,196.88 L767.98,198.11 L767.61,199.22 L767.23,199.42 L766.84,199.36 L766.44,202.91 L766.04,204.21 L765.62,206.08 L765.20,206.33 L764.73,207.29 L764.26,209.34 L763.80,209.28 L763.32,210.93 L762.81,212.20 L762.26,214.29 L761.66,216.65 L761.00,216.73 L760.21,218.05 L759.41,218.39 L758.56,219.31 L757.64,219.59 L756.59,220.41 L755.39,219.50 L754.00,220.86 L753.01,221.04 L751.96,222.68 L750.85,222.65 L749.68,223.03 L748.45,223.32 L747.16,222.01 L745.83,222.95 L744.44,223.57 L743.01,222.22 L741.52,223.04 L740.00,222.28 L738.91,221.38 L737.79,222.73 L736.62,222.22 L735.42,223.03 L734.19,222.80 L732.94,223.53 L731.67,222.00 L730.38,225.14 L729.07,224.82 L727.76,223.81 L726.45,223.61 L725.14,224.42 L723.84,225.06 L722.54,225.04 L721.26,225.16 L720.00,223.62 L718.78,224.32 L717.60,226.15 L716.46,225.46 L715.35,224.31 L714.25,224.84 L713.16,224.50 L712.06,224.86 L710.94,226.46 L709.79,225.53 L708.60,226.52 L707.36,225.91 L706.05,224.76 L704.68,225.41 L703.22,227.54 L701.66,225.41 L700.00,225.25 L699.05,226.90 L698.09,226.11 L697.12,226.07 L696.15,227.14 L695.16,224.86 L694.16,226.44 L693.15,225.41 L692.12,225.18 L691.08,225.62 L690.01,227.04 L688.94,226.13 L687.84,224.94 L686.72,225.48 L685.58,227.38 L684.42,227.03 L683.23,225.54 L682.01,228.07 L680.77,226.09 L679.50,225.51 L678.21,226.28 L676.88,227.06 L675.52,227.56 L674.12,227.15 L672.70,226.13 L671.23,226.04 L669.73,225.42 L668.19,226.42 L666.62,226.06 L665.00,226.68 L664.04,225.60 L663.06,226.14 L662.05,225.89 L661.03,225.67 L659.99,225.69 L658.93,225.81 L657.85,225.70 L656.76,226.96 L655.65,226.63 L654.52,225.61 L653.38,226.93 L652.22,226.77 L651.05,227.62 L649.87,226.43 L648.68,226.43 L647.48,226.09 L646.26,226.67 L645.04,226.94 L643.80,226.71 L642.56,226.41 L641.31,227.00 L640.05,226.66 L638.79,226.78 L637.52,225.93 L636.25,226.75 L634.97,225.90 L633.69,226.01 L632.41,226.73 L631.13,228.13 L629.84,227.34 L628.55,226.63 L627.27,226.51 L625.98,227.35 L624.70,227.63 L623.42,227.52 L622.14,226.52 L620.87,226.80 L619.60,226.43 L618.34,226.47 L617.08,226.07 L615.83,226.52 L614.59,225.16 L613.35,225.85 L612.13,227.03 L610.91,226.07 L609.70,227.13 L608.51,225.83 L607.33,226.51 L606.16,227.07 L605.00,226.06 L603.72,226.31 L602.45,228.61 L601.19,226.37 L599.93,226.37 L598.67,226.49 L597.42,226.94 L596.17,226.92 L594.92,227.67 L593.68,227.56 L592.44,226.72 L591.21,226.78 L589.97,226.05 L588.75,226.02 L587.52,226.59 L586.30,227.67 L585.08,227.26 L583.86,227.78 L582.64,227.91 L581.43,227.15 L580.21,228.80 L579.00,226.95 L577.79,226.91 L576.58,227.08 L575.38,228.23 L574.17,227.35 L572.96,226.95 L571.76,227.82 L570.56,228.35 L569.35,227.49 L568.15,227.42 L566.94,228.40 L565.74,228.36 L564.54,228.36 L563.33,227.17 L562.13,227.95 L560.92,228.03 L559.71,226.51 L558.50,228.69 L557.29,227.92 L556.08,227.64 L554.87,229.52 L553.66,228.03 L552.44,227.44 L551.22,227.93 L550.00,228.40 L548.78,228.60 L547.57,228.00 L546.37,227.45 L545.18,227.59 L544.00,227.52 L542.82,227.37 L541.65,228.13 L540.48,227.81 L539.32,228.22 L538.16,227.61 L537.01,227.59 L535.85,228.10 L534.70,228.00 L533.56,229.09 L532.41,227.64 L531.26,228.44 L530.11,228.28 L528.96,227.39 L527.81,228.87 L526.65,228.48 L525.49,226.88 L524.33,228.82 L523.17,229.08 L521.99,227.85 L520.82,229.65 L519.63,228.57 L518.44,227.65 L517.24,228.89 L516.03,228.25 L514.81,227.56 L513.59,227.00 L512.35,228.73 L511.10,228.04 L509.84,229.05 L508.57,228.88 L507.28,228.25 L505.98,228.26 L504.66,229.92 L503.33,229.90 L501.99,229.23 L500.63,228.46 L499.25,228.04 L497.85,228.48 L496.43,229.97 L495.00,229.13 L493.94,228.61 L492.87,227.96 L491.78,228.97 L490.68,228.24 L489.56,228.89 L488.43,229.43 L487.28,229.68 L486.12,229.03 L484.95,228.71 L483.77,229.13 L482.57,230.27 L481.37,229.27 L480.15,228.03 L478.92,230.15 L477.69,229.24 L476.45,231.56 L475.20,228.76 L473.94,229.05 L472.68,228.92 L471.41,229.42 L470.13,228.76 L468.85,228.14 L467.56,227.84 L466.27,229.14 L464.98,228.88 L463.69,228.86 L462.39,230.80 L461.09,229.88 L459.79,230.11 L458.49,228.99 L457.19,229.58 L455.89,229.24 L454.59,229.26 L453.29,229.96 L452.00,229.88 L450.71,229.69 L449.42,229.59 L448.13,228.48 L446.85,229.01 L445.58,229.82 L444.31,229.31 L443.05,229.04 L441.79,229.87 L440.54,228.98 L439.30,229.17 L438.07,230.30 L436.85,229.44 L435.64,230.73 L434.44,230.11 L433.24,230.33 L432.06,230.58 L430.90,228.26 L429.74,229.76 L428.60,228.92 L427.47,229.53 L426.36,229.80 L425.26,230.78 L424.17,229.89 L423.10,231.11 L422.05,229.59 L421.02,229.94 L420.00,230.07 L418.50,230.70 L417.03,230.02 L415.61,229.65 L414.21,229.89 L412.86,229.15 L411.53,231.07 L410.24,230.74 L408.97,230.54 L407.73,230.46 L406.51,229.86 L405.32,230.03 L404.14,230.92 L402.98,229.81 L401.84,229.85 L400.72,231.55 L399.60,231.56 L398.50,230.69 L397.40,230.89 L396.31,230.68 L395.23,231.58 L394.15,230.29 L393.06,230.69 L391.98,231.00 L390.89,231.71 L389.80,230.55 L388.70,230.92 L387.59,230.44 L386.47,230.35 L385.34,230.39 L384.19,230.94 L383.03,231.55 L381.84,230.46 L380.64,230.56 L379.41,230.74 L378.15,231.31 L376.87,231.59 L375.57,230.25 L374.23,231.43 L372.85,230.51 L371.44,231.76 L370.00,230.62 L368.95,230.57 L367.89,230.86 L366.80,231.35 L365.69,230.72 L364.57,231.61 L363.42,231.60 L362.26,231.59 L361.08,231.75 L359.89,232.21 L358.68,231.12 L357.46,231.67 L356.22,231.68 L354.98,230.30 L353.72,232.05 L352.45,231.28 L351.17,231.35 L349.88,231.58 L348.59,232.00 L347.29,232.20 L345.98,232.35 L344.67,231.56 L343.35,232.58 L342.02,232.42 L340.70,231.90 L339.37,232.20 L338.05,232.82 L336.72,232.60 L335.39,232.82 L334.06,232.45 L332.74,233.22 L331.42,234.02 L330.10,232.82 L328.79,231.42 L327.48,233.79 L326.18,232.22 L324.89,231.69 L323.60,231.04 L322.33,233.04 L321.06,233.55 L319.81,233.53 L318.56,232.60 L317.33,233.92 L316.11,232.89 L314.91,232.57 L313.72,233.07 L312.54,233.21 L311.39,233.14 L310.25,233.42 L309.13,231.64 L308.03,234.31 L306.94,232.85 L305.88,233.74 L304.84,232.77 L303.83,233.48 L302.83,233.27 L301.86,232.32 L300.92,233.74 L300.00,233.94 L298.22,232.79 L296.48,232.16 L294.79,233.24 L293.16,233.16 L291.57,233.89 L290.02,233.86 L288.52,235.06 L287.07,234.44 L285.66,233.86 L284.29,234.21 L282.96,232.13 L281.67,233.57 L280.43,233.61 L279.22,234.23 L278.04,234.59 L276.91,234.57 L275.81,235.13 L274.74,234.04 L273.71,234.80 L272.71,234.55 L271.74,234.70 L270.80,234.98 L269.89,234.61 L269.01,235.02 L268.16,234.91 L267.33,235.71 L266.53,234.98 L265.75,235.34 L265.00,237.02 L262.09,235.99 L260.27,236.28 L259.21,237.06 L258.55,236.01 L257.93,237.64 L257.00,238.12 L255.59,238.47 L254.25,239.43 L252.97,239.92 L251.75,240.88 L250.60,240.35 L249.51,241.93 L248.49,242.15 L247.53,244.35 L246.63,244.61 L245.80,244.69 L245.04,246.85 L244.37,247.34 L243.75,250.05 L243.16,250.46 L242.60,250.47 L242.06,253.01 L241.54,255.27 L241.06,256.07 L240.62,256.68 L240.20,258.85 L239.81,260.11 L239.44,262.06 L239.12,262.99 L238.83,263.88 L238.60,264.25 L238.34,266.40 L238.12,267.76 L238.05,268.73 L238.20,269.89 L239.07,269.42 L241.00,270.80 L242.03,270.54 L243.28,270.92 L244.68,270.73 L246.14,270.72 L247.61,271.24 L249.00,271.75 L250.38,271.10 L251.81,271.66 L253.25,271.02 L254.63,271.96 L255.90,271.83 L257.00,271.11 L258.63,273.31 L259.81,272.48 L261.00,273.66 L262.22,272.83 L263.44,272.60 L265.00,274.86 L265.83,273.97 L266.75,274.20 L267.74,276.29 L268.77,276.24 L269.84,278.09 L270.92,280.41 L272.00,279.73 L272.97,280.97 L274.00,281.82 L275.06,282.30 L276.12,282.77 L277.18,284.63 L278.19,284.29 L279.14,285.40 L280.00,286.08 L280.86,286.12 L281.62,288.27 L282.30,289.17 L282.94,290.71 L283.59,291.92 L284.26,293.77 L285.00,292.68 L285.56,294.59 L286.15,295.66 L286.76,296.45 L287.38,298.42 L288.00,299.20 L288.62,300.48 L289.24,300.40 L289.85,302.02 L290.44,303.80 L291.00,304.69 L291.55,305.73 L292.08,307.24 L292.60,308.30 L293.12,308.94 L293.62,312.03 L294.12,311.61 L294.61,313.75 L295.08,314.93 L295.55,316.42 L296.00,316.60 L296.40,317.45 L296.79,319.58 L297.16,320.60 L297.53,319.94 L297.89,320.92 L298.24,323.52 L298.59,324.81 L298.94,326.10 L299.29,327.79 L299.64,328.07 L300.00,331.83 L300.34,331.81 L300.68,333.32 L301.02,333.87 L301.37,333.53 L301.72,336.42 L302.06,337.18 L302.40,339.17 L302.74,340.07 L303.07,341.88 L303.39,342.04 L303.70,343.60 L304.00,345.00 L304.34,345.81 L304.66,347.29 L304.97,349.28 L305.27,351.40 L305.56,351.10 L305.85,352.99 L306.13,352.78 L306.42,354.40 L306.70,356.08 L307.00,357.40 L307.34,357.55 L307.69,359.91 L308.04,360.80 L308.39,362.81 L308.74,363.74 L309.07,364.67 L309.40,365.23 L309.71,366.92 L310.00,367.41 L310.24,368.55 L310.47,368.93 L310.68,370.38 L310.88,371.47 L311.07,373.37 L311.26,374.65 L311.44,374.85 L311.62,377.00 L311.81,378.75 L312.00,380.64 L312.12,380.96 L312.25,382.27 L312.38,382.99 L312.51,385.07 L312.64,384.58 L312.77,387.08 L312.90,386.59 L313.03,390.68 L313.16,391.46 L313.28,390.69 L313.40,393.11 L313.51,393.84 L313.62,394.92 L313.72,397.16 L313.81,398.12 L313.90,400.71 L313.98,400.89 L314.04,401.73 L314.11,403.69 L314.16,405.28 L314.21,406.81 L314.25,407.84 L314.29,407.72 L314.32,409.43 L314.36,411.12 L314.39,411.92 L314.42,414.26 L314.45,414.76 L314.49,416.19 L314.52,417.24 L314.56,418.77 L314.60,418.96 L314.64,422.69 L314.69,422.10 L314.73,423.24 L314.78,423.76 L314.83,426.18 L314.87,426.54 L314.92,428.97 L314.96,430.82 L315.01,431.66 L315.05,432.19 L315.10,434.62 L315.14,434.86 L315.18,436.21 L315.22,437.53 L315.26,438.41 L315.30,440.28 L315.34,440.40 L315.37,441.30 L315.41,444.64 L315.44,444.60 L315.48,446.16 L315.51,447.94 L315.54,448.69 L315.58,449.49 L315.61,451.45 L315.64,452.20 L315.67,454.49 L315.69,455.04 L315.72,456.37 L315.75,458.26 L315.77,457.81 L315.80,458.96 L315.83,461.94 L315.86,463.73 L315.89,464.32 L315.91,465.13 L315.94,467.79 L315.96,468.60 L315.99,470.19 L316.01,469.45 L316.03,471.76 L316.05,472.24 L316.08,473.24 L316.10,475.39 L316.14,477.41 L316.18,478.44 L316.22,480.25 L316.26,482.71 L316.32,483.11 L316.40,482.91 L316.50,483.07 L316.62,482.03 L316.76,479.87 L316.90,478.78 L317.05,477.40 L317.20,475.42 L317.26,473.24 L317.32,472.51 L317.38,471.58 L317.44,469.79 L317.50,470.38 L317.56,468.68 L317.62,467.97 L317.69,464.24 L317.75,463.83 L317.82,464.27 L317.88,460.67 L317.95,459.02 L318.01,459.06 L318.07,458.65 L318.14,456.70 L318.20,454.33 L318.26,454.12 L318.32,452.77 L318.39,451.42 L318.45,450.26 L318.51,449.31 L318.57,448.29 L318.64,447.18 L318.70,445.72 L318.76,443.64 L318.82,441.22 L318.89,441.62 L318.95,438.96 L319.01,440.31 L319.07,436.69 L319.14,434.97 L319.20,433.72 L319.26,434.00 L319.33,432.66 L319.39,431.62 L319.46,430.07 L319.53,428.04 L319.60,427.83 L319.66,425.49 L319.73,423.64 L319.80,424.02 L319.86,422.49 L319.92,420.23 L319.99,419.47 L320.04,419.14 L320.10,417.90 L320.15,415.36 L320.20,415.75 L320.26,411.80 L320.30,412.32 L320.33,411.27 L320.36,409.72 L320.38,408.72 L320.40,406.38 L320.42,406.25 L320.46,405.52 L320.50,403.34 L320.55,402.82 L320.61,401.28 L320.70,398.44 L320.78,398.46 L320.86,398.13 L320.95,395.48 L321.05,395.36 L321.16,394.34 L321.27,391.98 L321.39,391.42 L321.51,390.92 L321.63,389.51 L321.75,387.03 L321.88,387.11 L322.01,385.34 L322.13,383.90 L322.26,383.57 L322.38,381.76 L322.50,380.25 L322.62,379.41 L322.73,377.95 L322.84,377.12 L322.95,374.92 L323.06,372.52 L323.17,373.57 L323.28,371.80 L323.39,370.36 L323.51,368.78 L323.63,367.43 L323.76,366.32 L323.89,364.34 L324.03,364.28 L324.18,362.55 L324.33,360.59 L324.50,360.18 L324.68,358.51 L324.87,357.42 L325.07,356.51 L325.28,356.67 L325.50,352.74 L325.72,352.43 L325.95,351.31 L326.19,349.79 L326.42,349.22 L326.66,346.61 L326.89,345.43 L327.12,344.43 L327.35,342.31 L327.58,342.88 L327.79,340.17 L328.00,340.37 L328.31,339.30 L328.60,336.49 L328.87,335.66 L329.14,334.43 L329.41,334.62 L329.68,332.52 L329.97,330.06 L330.28,330.95 L330.62,329.84 L331.00,326.62 L331.42,324.97 L331.89,327.53 L332.38,324.65 L332.90,322.00 L333.44,323.10 L333.98,322.26 L334.51,318.54 L335.03,320.00 L335.53,318.54 L336.00,316.98 L336.54,315.19 L337.05,314.62 L337.53,312.48 L338.00,311.86 L338.47,310.31 L338.95,308.95 L339.46,308.48 L340.00,307.68 L340.68,306.45 L341.41,305.06 L342.18,304.90 L342.94,301.90 L343.69,301.88 L344.38,301.05 L345.00,300.84 L345.70,297.15 L346.25,297.17 L346.75,296.06 L347.30,295.25 L348.00,295.57 L348.86,293.11 L349.81,291.91 L350.83,291.32 L351.90,290.73 L353.00,288.88 L353.76,289.36 L354.50,286.50 L355.24,287.34 L356.03,286.08 L356.89,285.40 L357.87,284.92 L359.00,282.83 L359.83,282.72 L360.66,282.07 L361.49,280.92 L362.37,280.28 L363.31,279.74 L364.35,280.33 L365.51,277.62 L366.82,277.76 L368.31,278.14 L370.00,278.41 L370.89,277.14 L371.84,277.78 L372.84,276.55 L373.89,275.91 L374.98,274.87 L376.12,275.76 L377.30,276.50 L378.50,275.02 L379.73,273.90 L380.99,274.70 L382.26,273.00 L383.55,272.83 L384.85,274.08 L386.15,273.27 L387.45,273.34 L388.75,272.53 L390.03,271.98 L391.31,271.90 L392.56,271.28 L393.79,271.98 L395.00,270.10 L396.19,269.45 L397.38,269.96 L398.57,270.97 L399.76,269.77 L400.95,268.36 L402.14,271.77 L403.33,268.97 L404.52,269.32 L405.71,269.70 L406.90,269.40 L408.10,268.88 L409.29,267.77 L410.48,269.08 L411.67,267.89 L412.86,268.30 L414.05,268.81 L415.24,267.87 L416.43,266.74 L417.62,267.41 L418.81,268.09 L420.00,268.00 L421.19,266.42 L422.38,267.18 L423.57,267.17 L424.76,267.52 L425.95,266.87 L427.14,266.51 L428.33,266.00 L429.52,266.35 L430.71,266.36 L431.90,265.53 L433.10,265.25 L434.29,266.47 L435.48,265.05 L436.67,264.36 L437.86,265.19 L439.05,263.69 L440.24,263.64 L441.43,264.87 L442.62,264.09 L443.81,264.48 L445.00,264.34 L446.22,263.14 L447.39,263.89 L448.51,263.17 L449.60,263.47 L450.66,263.39 L451.71,263.07 L452.75,262.14 L453.80,263.16 L454.86,262.88 L455.94,263.16 L457.05,261.99 L458.20,262.78 L459.40,262.42 L460.66,262.20 L461.99,262.23 L463.40,262.17 L464.90,261.32 L466.49,261.80 L468.19,261.77 L470.00,262.32 L470.94,261.85 L471.92,262.88 L472.93,262.27 L473.99,262.02 L475.09,261.90 L476.21,260.72 L477.37,261.90 L478.56,262.47 L479.77,260.84 L481.01,262.40 L482.28,261.86 L483.56,261.58 L484.86,261.03 L486.18,261.29 L487.51,260.68 L488.86,261.15 L490.21,261.15 L491.58,261.10 L492.94,260.16 L494.31,261.59 L495.69,260.44 L497.06,261.11 L498.42,261.19 L499.79,260.59 L501.14,262.37 L502.49,260.71 L503.82,260.87 L505.14,260.36 L506.44,260.71 L507.72,259.56 L508.99,260.83 L510.23,260.09 L511.44,259.95 L512.63,260.78 L513.79,260.84 L514.91,259.88 L516.01,259.43 L517.07,258.72 L518.08,259.38 L519.06,260.37 L520.00,260.44 L521.80,259.07 L523.46,259.91 L524.99,260.53 L526.40,259.23 L527.71,259.31 L528.94,259.01 L530.10,259.86 L531.20,258.22 L532.26,259.39 L533.28,259.76 L534.29,259.37 L535.30,260.03 L536.32,259.78 L537.37,258.99 L538.46,258.66 L539.60,258.62 L540.81,259.71 L542.11,259.31 L543.50,259.52 L545.00,258.87 L546.03,260.34 L547.11,260.20 L548.22,260.18 L549.37,258.97 L550.56,261.59 L551.77,260.48 L553.02,259.25 L554.28,260.75 L555.57,260.10 L556.88,259.76 L558.20,259.88 L559.53,260.86 L560.86,260.85 L562.21,260.90 L563.55,260.73 L564.89,260.29 L566.22,261.29 L567.55,261.06 L568.86,261.22 L570.16,261.90 L571.44,262.75 L572.70,261.28 L573.93,262.48 L575.14,261.42 L576.31,262.60 L577.45,262.56 L578.55,262.23 L579.61,262.46 L580.62,261.84 L581.59,262.21 L582.50,263.15 L584.32,263.15 L585.89,264.29 L587.24,262.18 L588.42,262.67 L589.47,263.16 L590.43,263.22 L591.34,262.91 L592.26,263.02 L593.20,263.26 L594.23,264.20 L595.39,263.23 L596.70,262.72 L598.23,263.35 L600.00,261.21 L600.92,262.32 L601.89,262.37 L602.90,262.88 L603.97,260.96 L605.07,262.20 L606.21,261.43 L607.38,262.63 L608.59,262.29 L609.82,261.22 L611.07,261.62 L612.35,260.26 L613.64,260.97 L614.95,260.76 L616.27,261.06 L617.59,259.80 L618.92,258.39 L620.25,260.17 L621.58,258.66 L622.89,258.82 L624.20,258.74 L625.50,259.92 L626.78,258.59 L628.04,259.25 L629.27,258.37 L630.48,257.25 L631.66,258.42 L632.80,258.39 L633.91,257.61 L634.98,256.92 L636.00,259.94 L637.48,259.55 L638.90,258.53 L640.29,258.79 L641.63,259.40 L642.94,259.50 L644.21,258.46 L645.45,258.94 L646.66,260.88 L647.84,261.71 L649.00,261.98 L650.14,262.29 L651.26,262.19 L652.37,263.32 L653.47,264.17 L654.56,263.89 L655.65,264.78 L656.73,265.10 L657.82,264.09 L658.90,265.62 L660.00,264.48 L661.32,264.54 L662.55,266.37 L663.71,264.20 L664.81,265.21 L665.87,265.93 L666.91,265.52 L667.95,264.91 L669.00,264.43 L670.08,265.29 L671.21,265.16 L672.41,264.60 L673.69,263.85 L675.07,263.39 L676.57,264.22 L678.21,264.07 L680.00,264.57 L680.93,263.74 L681.89,264.53 L682.89,263.03 L683.91,262.63 L684.97,264.39 L686.06,263.41 L687.17,263.07 L688.31,263.49 L689.47,262.70 L690.65,263.24 L691.85,262.47 L693.07,263.46 L694.31,262.89 L695.56,263.19 L696.83,263.16 L698.11,263.40 L699.40,261.87 L700.69,263.07 L701.99,262.72 L703.30,262.06 L704.61,262.59 L705.93,263.05 L707.24,262.96 L708.55,263.92 L709.86,262.29 L711.16,262.54 L712.46,263.69 L713.74,261.91 L715.02,261.69 L716.29,261.88 L717.54,261.72 L718.78,262.05 L720.00,262.10 L721.22,261.43 L722.44,261.11 L723.67,261.78 L724.91,260.92 L726.16,261.14 L727.41,261.86 L728.66,261.50 L729.92,260.82 L731.18,260.46 L732.44,260.69 L733.70,260.29 L734.97,261.59 L736.23,261.67 L737.49,261.30 L738.75,261.25 L740.00,260.64 L741.25,261.02 L742.49,260.88 L743.73,260.81 L744.97,260.39 L746.19,259.93 L747.41,260.79 L748.61,260.79 L749.81,259.72 L751.00,260.26 L752.17,260.34 L753.34,260.64 L754.48,259.10 L755.62,259.25 L756.74,259.21 L757.84,259.26 L758.93,259.32 L760.00,260.58 L761.39,259.16 L762.77,261.33 L764.13,260.02 L765.47,260.26 L766.80,259.72 L768.11,260.30 L769.41,259.93 L770.69,260.18 L771.95,260.00 L773.20,259.99 L774.43,259.81 L775.65,260.26 L776.85,259.50 L778.03,259.11 L779.20,260.50 L780.35,259.07 L781.49,259.63 L782.61,260.75 L783.71,258.86 L784.80,259.07 L785.87,258.75 L786.93,258.53 L787.97,259.55 L788.99,258.92 L790.00,259.09 L791.52,257.75 L792.98,259.13 L794.37,258.20 L795.70,257.27 L796.99,257.96 L798.23,257.24 L799.44,259.27 L800.62,256.93 L801.79,258.12 L802.94,257.09 L804.09,257.11 L805.23,256.66 L806.39,258.21 L807.57,256.51 L808.77,256.70 L810.00,257.16 L811.26,256.63 L812.53,257.23 L813.81,256.14 L815.09,255.43 L816.38,256.72 L817.68,257.10 L818.97,256.54 L820.25,255.50 L821.53,256.73 L822.79,256.36 L824.05,255.45 L825.28,255.87 L826.50,255.42 L827.69,255.38 L828.86,255.59 L830.00,255.59 L831.38,254.87 L832.76,254.65 L834.13,252.72 L835.48,253.64 L836.81,254.28 L838.11,253.20 L839.38,253.76 L840.61,253.14 L841.80,253.08 L842.94,252.85 L844.02,253.41 L845.04,252.61 L846.00,252.03 L847.58,250.70 L848.93,251.24 L850.09,249.74 L851.13,250.74 L852.09,248.85 L853.03,248.27 L854.00,247.90 L854.98,246.61 L855.92,246.88 L856.82,246.00 L857.67,244.50 L858.49,243.71 L859.27,244.32 L860.00,242.78 L860.61,241.32 L861.20,239.98 L861.75,239.56 L862.27,236.99 L862.76,235.75 L863.22,234.51 L863.63,232.57 L864.00,231.41 L864.34,231.97 L864.64,229.51 L864.92,227.48 L865.15,226.59 L865.34,225.13 L865.48,223.93 L865.57,223.02 L865.60,221.01 L865.46,219.24 L865.11,218.89 L864.68,217.62 L864.27,215.97 L864.00,215.94" fill="none" stroke="#0255ad" stroke-width="5.0" stroke-linejoin="round" stroke-linecap="round"/>
<path d="M194.00,1400.98 L194.83,1401.04 L195.81,1401.00 L196.93,1401.00 L198.17,1400.97 L199.53,1401.03 L200.98,1401.13 L202.53,1401.09 L204.15,1401.15 L205.83,1401.11 L207.56,1401.13 L209.33,1401.13 L211.12,1401.02 L212.93,1401.20 L214.74,1401.19 L216.53,1401.21 L218.30,1401.07 L220.03,1401.09 L221.70,1401.16 L223.32,1401.20 L224.86,1401.27 L226.31,1401.26 L227.66,1401.31 L228.89,1401.24 L230.00,1401.32 L232.58,1401.39 L234.81,1401.42 L236.72,1401.70 L238.36,1401.74 L239.77,1401.88 L241.00,1401.82 L242.08,1401.81 L243.07,1401.76 L244.00,1401.59 L245.72,1400.56 L246.17,1398.91 L246.50,1396.97 L246.96,1395.66 L247.34,1394.43 L247.68,1392.80 L248.00,1389.95 L248.09,1389.01 L248.17,1388.07 L248.25,1386.99 L248.32,1386.12 L248.38,1385.16 L248.45,1383.80 L248.51,1382.63 L248.58,1381.19 L248.65,1379.47 L248.72,1377.65 L248.81,1375.41 L248.90,1372.79 L249.00,1370.06 L249.04,1369.02 L249.07,1367.97 L249.11,1366.88 L249.14,1365.64 L249.18,1364.42 L249.22,1363.08 L249.26,1361.93 L249.30,1360.52 L249.34,1359.17 L249.38,1357.71 L249.42,1356.31 L249.46,1354.90 L249.50,1353.57 L249.54,1351.78 L249.58,1350.30 L249.62,1348.90 L249.67,1347.45 L249.71,1345.78 L249.76,1343.92 L249.80,1342.23 L249.85,1340.91 L249.89,1339.15 L249.94,1337.45 L249.98,1336.03 L250.03,1334.39 L250.08,1332.61 L250.13,1330.96 L250.18,1329.32 L250.23,1327.81 L250.28,1326.02 L250.33,1324.36 L250.38,1322.72 L250.43,1320.78 L250.48,1319.57 L250.53,1317.92 L250.58,1316.26 L250.64,1314.30 L250.69,1312.95 L250.75,1311.65 L250.80,1309.70 L250.86,1308.46 L250.91,1307.15 L250.97,1305.22 L251.03,1304.19 L251.09,1302.46 L251.15,1300.78 L251.21,1299.31 L251.27,1297.80 L251.33,1296.13 L251.40,1294.75 L251.46,1292.82 L251.53,1291.29 L251.59,1290.00 L251.66,1288.21 L251.73,1286.44 L251.79,1285.24 L251.86,1283.77 L251.93,1281.79 L251.99,1280.02 L252.06,1278.72 L252.13,1277.16 L252.20,1275.57 L252.27,1274.42 L252.34,1272.32 L252.40,1271.33 L252.47,1269.22 L252.54,1267.83 L252.61,1266.68 L252.68,1265.33 L252.75,1263.81 L252.81,1262.23 L252.88,1260.76 L252.95,1259.35 L253.01,1258.06 L253.08,1256.50 L253.14,1255.26 L253.21,1254.01 L253.27,1252.55 L253.34,1251.47 L253.40,1250.15 L253.50,1248.65 L253.59,1246.33 L253.69,1244.30 L253.79,1242.54 L253.88,1240.90 L253.98,1239.47 L254.08,1237.43 L254.17,1236.00 L254.27,1234.83 L254.36,1231.93 L254.46,1230.81 L254.56,1229.70 L254.65,1228.25 L254.74,1226.72 L254.84,1225.05 L254.93,1223.96 L255.02,1222.41 L255.11,1220.75 L255.20,1220.31 L255.29,1218.26 L255.38,1216.58 L255.47,1215.37 L255.55,1213.97 L255.64,1212.67 L255.72,1210.42 L255.80,1209.83 L255.90,1208.62 L256.00,1206.19 L256.10,1204.93 L256.20,1203.70 L256.29,1202.10 L256.38,1200.80 L256.47,1198.14 L256.56,1197.15 L256.65,1195.69 L256.73,1194.61 L256.82,1193.35 L256.90,1190.51 L256.99,1190.52 L257.07,1188.13 L257.16,1187.53 L257.24,1185.26 L257.33,1184.47 L257.42,1183.42 L257.51,1181.43 L257.60,1180.08 L257.69,1178.81 L257.79,1177.01 L257.89,1175.37 L257.98,1174.47 L258.08,1172.70 L258.18,1170.56 L258.29,1170.25 L258.39,1167.04 L258.49,1166.33 L258.59,1164.26 L258.69,1162.88 L258.79,1161.58 L258.88,1159.86 L258.98,1158.54 L259.07,1156.13 L259.16,1154.69 L259.25,1154.23 L259.34,1152.16 L259.42,1150.81 L259.50,1149.34 L259.61,1148.75 L259.70,1146.88 L259.79,1145.72 L259.86,1143.26 L259.93,1142.38 L259.99,1140.59 L260.06,1140.17 L260.13,1139.23 L260.21,1136.72 L260.31,1136.31 L260.42,1134.39 L260.55,1132.00 L260.70,1129.11 L260.79,1129.45 L260.88,1127.53 L260.97,1125.99 L261.07,1125.09 L261.17,1123.68 L261.27,1122.72 L261.38,1120.10 L261.49,1119.54 L261.60,1118.15 L261.71,1116.55 L261.83,1114.22 L261.95,1112.35 L262.07,1111.52 L262.20,1109.48 L262.33,1107.86 L262.47,1106.81 L262.60,1104.44 L262.74,1101.92 L262.88,1101.19 L263.03,1098.97 L263.18,1098.63 L263.33,1096.91 L263.48,1095.02 L263.64,1093.87 L263.80,1092.87 L264.01,1090.85 L264.22,1089.74 L264.44,1087.45 L264.66,1086.29 L264.89,1084.85 L265.12,1083.28 L265.36,1080.65 L265.61,1079.76 L265.85,1076.95 L266.11,1075.76 L266.36,1073.85 L266.62,1073.72 L266.89,1071.22 L267.15,1070.34 L267.42,1068.86 L267.69,1067.57 L267.97,1065.98 L268.24,1065.07 L268.52,1064.52 L268.80,1062.52 L269.27,1060.84 L269.73,1059.30 L270.20,1057.13 L270.68,1055.13 L271.17,1054.01 L271.66,1053.37 L272.17,1050.83 L272.70,1050.01 L273.24,1049.44 L273.80,1048.05 L274.39,1046.38 L275.00,1045.36 L275.63,1043.66 L276.29,1041.61 L276.96,1039.98 L277.65,1038.94 L278.36,1038.20 L279.09,1036.10 L279.83,1034.55 L280.59,1033.26 L281.37,1031.61 L282.16,1031.00 L282.97,1029.36 L283.80,1028.96 L284.93,1026.44 L286.10,1026.50 L287.31,1025.04 L288.54,1023.52 L289.80,1023.84 L291.08,1022.55 L292.38,1020.82 L293.69,1020.55 L295.00,1020.13 L296.15,1018.89 L297.26,1018.53 L298.34,1017.59 L299.43,1016.63 L300.54,1015.55 L301.72,1015.08 L302.97,1013.87 L304.34,1012.89 L305.84,1010.89 L307.50,1011.40 L308.71,1011.05 L310.02,1009.80 L311.40,1009.20 L312.85,1009.77 L314.35,1007.61 L315.90,1008.11 L317.48,1008.50 L319.09,1006.51 L320.70,1006.77 L322.31,1006.84 L323.92,1005.48 L325.50,1005.34 L327.05,1005.06 L328.55,1003.81 L330.00,1003.76 L331.62,1003.44 L333.21,1003.18 L334.79,1002.29 L336.34,1001.72 L337.87,1000.86 L339.40,1000.68 L340.91,1000.78 L342.42,1000.00 L343.93,999.18 L345.44,998.84 L346.95,1000.12 L348.47,999.19 L350.00,998.79 L351.55,997.22 L353.13,998.62 L354.72,998.56 L356.32,999.15 L357.92,998.68 L359.52,998.59 L361.10,999.02 L362.67,998.09 L364.21,999.63 L365.73,999.52 L367.20,999.28 L368.63,1000.40 L370.00,1000.81 L371.68,999.63 L373.24,1000.24 L374.71,1000.97 L376.12,1001.24 L377.50,1001.32 L378.88,1001.42 L380.29,1003.19 L381.76,1003.11 L383.32,1002.52 L385.00,1002.89 L386.38,1004.63 L387.83,1004.69 L389.33,1005.46 L390.87,1005.43 L392.44,1005.10 L394.04,1006.05 L395.65,1005.41 L397.26,1006.49 L398.87,1007.25 L400.45,1007.96 L402.01,1007.83 L403.53,1008.53 L405.00,1009.21 L406.54,1009.60 L408.03,1010.14 L409.49,1010.36 L410.93,1010.52 L412.34,1011.42 L413.75,1011.49 L415.16,1011.50 L416.57,1012.00 L418.01,1012.69 L419.47,1013.07 L420.96,1013.62 L422.50,1014.00 L423.97,1014.51 L425.48,1014.81 L427.04,1014.75 L428.62,1015.96 L430.22,1016.71 L431.82,1016.90 L433.43,1017.09 L435.02,1017.85 L436.60,1017.69 L438.14,1017.74 L439.65,1019.09 L441.10,1019.12 L442.50,1020.33 L444.09,1020.05 L445.64,1019.88 L447.15,1021.11 L448.61,1022.81 L450.05,1022.44 L451.44,1022.52 L452.81,1023.33 L454.15,1024.45 L455.46,1025.01 L456.74,1025.46 L458.00,1026.67 L459.49,1027.14 L460.90,1027.71 L462.26,1028.94 L463.57,1030.38 L464.86,1031.05 L466.13,1032.02 L467.40,1031.97 L468.69,1033.21 L470.00,1034.33 L471.46,1034.50 L472.86,1035.57 L474.24,1035.71 L475.62,1036.16 L477.06,1035.99 L478.58,1037.68 L480.21,1037.70 L482.00,1037.90 L483.10,1038.64 L484.26,1040.44 L485.46,1039.83 L486.71,1041.15 L487.99,1042.01 L489.29,1042.43 L490.62,1042.79 L491.97,1044.31 L493.33,1045.33 L494.68,1046.63 L496.03,1047.44 L497.38,1048.07 L498.70,1049.42 L500.00,1050.24 L501.21,1051.01 L502.43,1051.87 L503.66,1052.70 L504.89,1054.09 L506.13,1054.30 L507.37,1055.50 L508.60,1056.80 L509.83,1057.17 L511.05,1058.66 L512.26,1058.98 L513.45,1060.61 L514.62,1062.21 L515.78,1063.23 L516.90,1063.97 L518.00,1064.90 L519.24,1065.52 L520.44,1068.16 L521.63,1068.74 L522.79,1070.19 L523.92,1070.49 L525.04,1071.98 L526.14,1072.43 L527.23,1074.76 L528.30,1075.99 L529.36,1075.86 L530.41,1077.81 L531.46,1079.21 L532.50,1079.21 L533.70,1080.39 L534.86,1081.89 L535.99,1083.20 L537.09,1083.94 L538.18,1085.65 L539.26,1086.81 L540.35,1088.07 L541.46,1089.20 L542.60,1090.71 L543.78,1091.75 L545.00,1091.91 L545.99,1093.31 L547.01,1094.12 L548.05,1095.19 L549.10,1096.74 L550.17,1097.89 L551.25,1099.25 L552.34,1099.47 L553.44,1100.80 L554.54,1102.54 L555.64,1103.67 L556.74,1104.85 L557.84,1106.22 L558.92,1107.17 L560.00,1109.12 L560.94,1110.11 L561.89,1111.08 L562.85,1112.02 L563.81,1113.46 L564.77,1113.55 L565.73,1115.59 L566.70,1117.31 L567.66,1117.89 L568.61,1119.94 L569.56,1121.20 L570.50,1121.81 L571.43,1123.60 L572.34,1124.86 L573.24,1126.48 L574.13,1127.82 L575.00,1128.78 L575.90,1129.73 L576.77,1131.33 L577.62,1132.63 L578.45,1134.24 L579.26,1135.28 L580.06,1136.06 L580.85,1137.02 L581.65,1138.72 L582.44,1139.84 L583.24,1140.99 L584.05,1142.79 L584.88,1144.02 L585.73,1145.75 L586.60,1147.45 L587.50,1148.61 L588.16,1151.02 L588.83,1151.02 L589.50,1152.87 L590.18,1153.66 L590.87,1155.36 L591.57,1155.09 L592.27,1157.10 L592.97,1158.86 L593.69,1160.34 L594.40,1162.44 L595.12,1162.95 L595.85,1164.74 L596.58,1165.93 L597.31,1167.43 L598.05,1168.69 L598.78,1169.87 L599.53,1171.63 L600.27,1172.47 L601.01,1174.91 L601.75,1175.54 L602.50,1177.60 L603.11,1179.62 L603.73,1179.99 L604.36,1181.43 L605.01,1183.25 L605.66,1184.20 L606.32,1185.29 L606.98,1187.14 L607.65,1188.72 L608.32,1190.24 L609.00,1191.16 L609.67,1193.59 L610.34,1195.05 L611.01,1195.93 L611.68,1197.51 L612.34,1198.74 L612.99,1200.88 L613.63,1201.58 L614.27,1203.53 L614.89,1204.55 L615.50,1205.89 L616.09,1207.77 L616.67,1209.35 L617.23,1210.21 L617.78,1211.28 L618.30,1213.05 L618.80,1213.98 L619.49,1215.81 L620.13,1217.87 L620.74,1219.34 L621.31,1220.36 L621.85,1222.79 L622.37,1223.54 L622.87,1225.24 L623.34,1226.21 L623.81,1227.80 L624.26,1228.66 L624.71,1231.11 L625.15,1232.33 L625.60,1232.89 L626.05,1234.15 L626.51,1235.46 L626.99,1237.63 L627.48,1238.50 L628.00,1239.98 L628.60,1241.45 L629.21,1243.05 L629.84,1244.31 L630.47,1246.15 L631.11,1247.27 L631.75,1249.16 L632.39,1250.76 L633.02,1252.29 L633.66,1253.57 L634.29,1254.85 L634.91,1256.57 L635.52,1257.82 L636.11,1259.75 L636.70,1260.92 L637.26,1262.05 L637.80,1263.28 L638.44,1264.85 L639.06,1266.41 L639.66,1268.16 L640.25,1269.90 L640.81,1271.52 L641.37,1273.06 L641.91,1274.89 L642.44,1275.69 L642.96,1277.23 L643.47,1279.16 L643.98,1279.37 L644.49,1280.82 L645.00,1282.04 L646.07,1284.11 L647.09,1285.99 L648.08,1287.38 L649.04,1288.68 L650.01,1289.42 L651.00,1289.95 L652.23,1289.17 L653.50,1288.39 L654.74,1287.13 L655.93,1285.30 L657.00,1283.78 L657.90,1282.81 L658.65,1281.21 L659.35,1280.03 L660.10,1278.32 L661.00,1276.07 L661.46,1275.01 L661.93,1273.73 L662.41,1272.25 L662.90,1271.33 L663.42,1270.13 L663.95,1268.50 L664.51,1267.10 L665.09,1265.69 L665.69,1263.54 L666.33,1262.02 L667.00,1260.27 L667.36,1258.50 L667.74,1257.47 L668.12,1256.12 L668.51,1255.24 L668.92,1253.56 L669.32,1252.30 L669.74,1250.43 L670.16,1249.13 L670.59,1247.62 L671.03,1245.59 L671.47,1244.94 L671.92,1243.22 L672.37,1240.87 L672.83,1240.00 L673.29,1238.15 L673.75,1236.73 L674.22,1235.12 L674.68,1232.98 L675.15,1231.80 L675.63,1230.78 L676.10,1228.62 L676.56,1227.03 L677.02,1225.47 L677.49,1224.04 L677.96,1223.05 L678.44,1222.01 L678.92,1220.11 L679.41,1218.55 L679.90,1217.71 L680.40,1215.30 L680.89,1213.74 L681.39,1212.65 L681.90,1211.16 L682.40,1209.12 L682.90,1207.58 L683.40,1206.60 L683.91,1205.11 L684.41,1203.09 L684.91,1202.02 L685.41,1200.46 L685.91,1199.39 L686.41,1197.76 L686.90,1196.37 L687.44,1194.74 L687.98,1193.75 L688.52,1192.36 L689.06,1190.20 L689.60,1189.17 L690.14,1187.06 L690.68,1185.91 L691.22,1184.70 L691.76,1183.55 L692.30,1181.35 L692.84,1180.03 L693.38,1178.70 L693.92,1176.60 L694.46,1175.79 L695.00,1174.11 L695.54,1173.14 L696.08,1171.13 L696.62,1169.40 L697.16,1168.87 L697.70,1167.61 L698.30,1165.77 L698.90,1164.91 L699.50,1162.95 L700.10,1161.36 L700.70,1160.39 L701.30,1158.08 L701.90,1157.06 L702.50,1155.94 L703.10,1154.94 L703.70,1153.11 L704.30,1151.94 L704.90,1150.14 L705.50,1149.21 L706.10,1148.46 L706.70,1146.05 L707.30,1146.07 L707.90,1143.36 L708.50,1142.31 L709.14,1140.95 L709.77,1139.90 L710.40,1137.45 L711.04,1135.63 L711.67,1135.42 L712.31,1134.09 L712.94,1132.60 L713.58,1132.10 L714.21,1129.61 L714.85,1128.24 L715.48,1127.17 L716.12,1125.55 L716.75,1124.79 L717.39,1122.15 L718.02,1121.22 L718.66,1118.53 L719.30,1119.17 L719.99,1117.24 L720.64,1116.52 L721.24,1115.83 L721.83,1113.68 L722.40,1112.42 L722.97,1111.17 L723.55,1109.88 L724.16,1108.82 L724.81,1108.20 L725.50,1106.69 L726.27,1105.38 L727.10,1103.87 L728.03,1102.84 L729.06,1101.01 L730.20,1098.94 L730.84,1098.31 L731.52,1096.90 L732.23,1095.35 L732.97,1095.39 L733.74,1093.77 L734.54,1091.91 L735.37,1091.58 L736.22,1089.98 L737.08,1087.81 L737.97,1087.92 L738.87,1086.00 L739.79,1084.89 L740.72,1083.21 L741.66,1081.68 L742.61,1079.68 L743.56,1079.43 L744.51,1077.64 L745.47,1076.13 L746.42,1075.07 L747.37,1073.61 L748.31,1072.56 L749.25,1070.80 L750.18,1069.69 L751.09,1067.51 L751.99,1067.08 L752.87,1066.41 L753.74,1065.59 L754.58,1063.76 L755.40,1062.85 L756.56,1062.20 L757.69,1059.99 L758.80,1059.17 L759.89,1058.35 L760.97,1056.41 L762.03,1055.79 L763.08,1053.80 L764.12,1053.14 L765.16,1051.96 L766.19,1051.02 L767.23,1050.48 L768.27,1050.06 L769.31,1047.72 L770.36,1046.80 L771.42,1046.33 L772.50,1044.68 L773.59,1044.43 L774.71,1043.51 L775.84,1042.16 L777.00,1041.54 L778.18,1039.61 L779.38,1039.66 L780.60,1037.64 L781.82,1037.04 L783.07,1036.13 L784.32,1035.23 L785.59,1034.83 L786.86,1033.53 L788.14,1032.38 L789.43,1031.87 L790.72,1031.42 L792.01,1029.81 L793.31,1029.09 L794.60,1028.62 L795.90,1027.33 L797.19,1025.80 L798.48,1026.70 L799.76,1025.79 L801.03,1023.14 L802.30,1023.28 L803.71,1022.70 L805.12,1022.19 L806.55,1021.32 L807.97,1020.19 L809.40,1019.16 L810.84,1019.02 L812.27,1018.80 L813.70,1017.23 L815.12,1016.66 L816.55,1016.53 L817.96,1015.11 L819.36,1015.32 L820.76,1014.72 L822.14,1014.61 L823.50,1013.59 L824.85,1013.03 L826.19,1012.78 L827.50,1012.48 L829.18,1011.63 L830.85,1011.40 L832.51,1011.23 L834.17,1010.94 L835.81,1010.73 L837.43,1009.18 L839.02,1008.95 L840.59,1007.65 L842.13,1009.27 L843.63,1007.76 L845.10,1007.77 L846.51,1007.74 L847.88,1006.63 L849.20,1007.21 L851.04,1006.68 L852.61,1005.66 L854.01,1006.48 L855.31,1006.81 L856.61,1005.39 L858.00,1006.57 L859.57,1006.26 L861.41,1006.32 L863.60,1006.20 L864.77,1006.52 L865.99,1005.78 L867.26,1006.22 L868.59,1005.59 L869.96,1006.05 L871.38,1005.30 L872.84,1005.56 L874.34,1006.34 L875.87,1005.70 L877.43,1005.37 L879.02,1004.85 L880.64,1004.94 L882.27,1005.30 L883.93,1005.54 L885.61,1005.21 L887.29,1005.15 L888.99,1004.77 L890.69,1005.26 L892.40,1004.32 L893.78,1004.12 L895.22,1004.63 L896.71,1004.10 L898.24,1003.79 L899.80,1003.48 L901.40,1003.45 L903.02,1003.66 L904.67,1003.34 L906.32,1002.44 L907.98,1002.98 L909.64,1002.66 L911.30,1001.92 L912.94,1002.51 L914.57,1001.83 L916.17,1001.60 L917.74,1001.90 L919.28,1001.92 L920.77,1000.82 L922.22,1001.12 L923.61,1000.33 L924.94,1001.58 L926.20,1000.13 L927.39,1000.71 L928.50,999.71 L930.88,999.97 L932.93,1000.23 L934.70,997.72 L936.24,998.31 L937.61,998.38 L938.85,997.77 L940.03,997.18 L941.20,998.12 L942.40,996.86 L943.70,995.76 L945.40,996.45 L947.10,994.83 L948.76,995.66 L950.37,994.43 L951.89,994.34 L953.30,994.49 L954.58,993.71 L955.70,992.87 L958.03,992.91 L959.53,994.87 L960.20,995.33 L959.88,995.23 L957.30,996.79 L956.27,996.89 L955.03,997.27 L953.62,996.30 L952.08,997.54 L950.44,998.45 L948.75,998.75 L947.04,999.19 L945.34,998.05 L943.70,999.58 L942.34,1000.01 L941.10,1001.21 L939.92,999.90 L938.74,1000.44 L937.51,1000.87 L936.16,1001.53 L934.65,1001.21 L932.90,1002.23 L930.87,1001.69 L928.50,1002.52 L927.39,1002.32 L926.20,1002.79 L924.94,1002.58 L923.61,1002.34 L922.22,1003.72 L920.77,1003.55 L919.28,1003.34 L917.74,1003.86 L916.17,1004.41 L914.57,1003.71 L912.94,1004.29 L911.30,1004.78 L909.64,1004.97 L907.98,1004.78 L906.32,1004.19 L904.67,1005.90 L903.02,1005.69 L901.40,1005.75 L899.80,1005.83 L898.24,1006.28 L896.71,1006.18 L895.22,1006.12 L893.78,1006.46 L892.40,1006.73 L890.70,1006.99 L889.03,1007.00 L887.37,1008.07 L885.73,1007.45 L884.12,1008.59 L882.52,1008.09 L880.95,1008.97 L879.39,1009.69 L877.86,1009.43 L876.35,1009.28 L874.85,1009.91 L873.38,1010.24 L871.92,1009.69 L870.49,1010.51 L869.07,1011.17 L867.67,1011.22 L866.30,1011.80 L864.94,1012.46 L863.60,1012.84 L861.95,1013.40 L860.35,1013.76 L858.80,1013.89 L857.30,1014.55 L855.84,1014.99 L854.40,1015.53 L853.00,1016.18 L851.61,1016.08 L850.23,1017.32 L848.86,1018.09 L847.49,1018.31 L846.12,1019.40 L844.73,1020.32 L843.33,1020.71 L841.90,1022.43 L840.55,1021.01 L839.20,1022.77 L837.84,1022.74 L836.49,1024.71 L835.14,1026.18 L833.79,1024.60 L832.44,1026.53 L831.09,1027.47 L829.74,1027.88 L828.40,1029.07 L827.05,1028.63 L825.70,1030.87 L824.35,1031.52 L823.00,1032.25 L821.65,1032.89 L820.30,1034.39 L819.10,1034.74 L817.90,1035.92 L816.70,1036.47 L815.50,1036.59 L814.30,1038.49 L813.10,1039.52 L811.90,1040.71 L810.71,1040.93 L809.51,1042.29 L808.31,1043.58 L807.11,1044.39 L805.91,1045.92 L804.71,1047.32 L803.51,1047.10 L802.31,1047.75 L801.10,1050.14 L799.90,1051.60 L798.70,1052.52 L797.72,1053.45 L796.73,1053.81 L795.75,1054.77 L794.76,1056.51 L793.77,1056.73 L792.79,1057.37 L791.80,1058.79 L790.81,1061.43 L789.82,1062.27 L788.84,1062.19 L787.85,1063.30 L786.86,1064.87 L785.88,1065.59 L784.89,1067.69 L783.90,1068.27 L782.91,1069.04 L781.93,1071.37 L780.94,1071.79 L779.95,1073.45 L778.97,1074.66 L777.98,1075.88 L777.00,1077.55 L776.20,1078.24 L775.40,1078.89 L774.60,1079.92 L773.79,1081.55 L772.99,1083.02 L772.19,1084.60 L771.39,1085.91 L770.59,1087.42 L769.79,1088.52 L768.99,1089.43 L768.19,1090.80 L767.39,1091.51 L766.59,1093.74 L765.79,1095.40 L764.99,1096.80 L764.20,1097.89 L763.40,1099.25 L762.60,1101.15 L761.80,1102.14 L761.00,1103.87 L760.20,1105.21 L759.40,1106.45 L758.60,1108.36 L757.80,1108.92 L757.00,1110.43 L756.20,1111.63 L755.40,1113.04 L754.68,1115.36 L753.96,1116.71 L753.24,1117.18 L752.52,1118.68 L751.80,1120.21 L751.08,1121.29 L750.36,1122.73 L749.64,1122.87 L748.92,1124.41 L748.20,1126.16 L747.48,1127.87 L746.76,1128.54 L746.05,1129.39 L745.33,1130.89 L744.61,1132.05 L743.89,1133.26 L743.17,1135.62 L742.45,1135.98 L741.73,1137.60 L741.01,1139.90 L740.29,1140.81 L739.57,1141.79 L738.85,1142.74 L738.13,1144.59 L737.41,1146.55 L736.69,1147.52 L735.96,1149.24 L735.24,1150.18 L734.52,1151.84 L733.80,1153.01 L733.20,1154.56 L732.58,1156.24 L731.97,1156.36 L731.35,1158.31 L730.72,1159.81 L730.09,1160.85 L729.46,1162.37 L728.83,1164.27 L728.19,1166.22 L727.55,1167.10 L726.91,1168.44 L726.27,1169.13 L725.63,1172.06 L724.99,1172.79 L724.35,1174.24 L723.71,1175.30 L723.08,1177.24 L722.44,1178.32 L721.81,1180.29 L721.19,1181.94 L720.57,1183.26 L719.95,1184.83 L719.34,1185.87 L718.73,1188.20 L718.13,1188.85 L717.54,1189.84 L716.95,1191.87 L716.37,1193.05 L715.80,1194.34 L715.24,1195.93 L714.69,1197.50 L714.15,1198.26 L713.62,1199.92 L713.10,1201.72 L712.60,1202.67 L712.10,1203.55 L711.35,1205.42 L710.63,1207.03 L709.93,1208.68 L709.25,1210.51 L708.60,1211.73 L707.97,1212.41 L707.36,1214.62 L706.76,1215.70 L706.18,1217.55 L705.61,1218.45 L705.06,1220.00 L704.51,1221.95 L703.97,1222.19 L703.44,1223.46 L702.91,1224.67 L702.38,1225.68 L701.85,1227.19 L701.32,1229.26 L700.79,1230.36 L700.26,1231.44 L699.71,1233.07 L699.16,1235.26 L698.60,1236.47 L698.16,1237.89 L697.72,1239.45 L697.27,1241.14 L696.81,1242.75 L696.35,1243.96 L695.89,1245.22 L695.43,1246.78 L694.96,1248.79 L694.50,1250.27 L694.03,1251.40 L693.57,1253.22 L693.11,1254.79 L692.65,1256.35 L692.19,1257.83 L691.74,1259.24 L691.29,1261.04 L690.85,1262.38 L690.41,1264.64 L689.99,1266.01 L689.57,1267.11 L689.16,1269.21 L688.76,1270.53 L688.37,1271.28 L687.99,1273.51 L687.62,1274.57 L687.27,1276.11 L686.93,1276.56 L686.60,1278.08 L686.29,1279.11 L686.00,1280.04 L685.15,1282.82 L684.48,1285.14 L683.96,1286.23 L683.53,1287.54 L683.16,1288.54 L682.81,1289.66 L682.45,1290.65 L682.02,1292.04 L681.50,1293.55 L681.06,1294.84 L680.60,1296.08 L680.14,1297.53 L679.67,1299.23 L679.18,1300.67 L678.69,1302.05 L678.18,1303.50 L677.67,1305.38 L677.14,1306.58 L676.60,1308.38 L676.06,1310.07 L675.50,1311.46 L675.01,1313.05 L674.51,1314.19 L673.99,1316.01 L673.47,1317.40 L672.93,1318.67 L672.39,1320.54 L671.84,1321.87 L671.29,1323.73 L670.74,1325.01 L670.19,1326.61 L669.63,1328.18 L669.08,1329.59 L668.54,1331.12 L668.00,1332.43 L667.42,1334.07 L666.83,1335.47 L666.24,1336.94 L665.64,1338.05 L665.05,1339.91 L664.45,1341.18 L663.86,1342.38 L663.28,1343.94 L662.70,1345.33 L662.13,1346.72 L661.57,1347.82 L661.03,1349.37 L660.50,1350.49 L659.83,1352.34 L659.16,1353.70 L658.50,1355.32 L657.85,1356.76 L657.22,1358.20 L656.61,1359.83 L656.03,1361.27 L655.48,1362.75 L654.97,1364.13 L654.50,1365.46 L654.03,1366.96 L653.63,1368.59 L653.28,1370.12 L652.96,1371.63 L652.67,1373.22 L652.39,1374.69 L652.11,1376.11 L651.82,1377.59 L651.50,1378.99 L651.13,1380.62 L650.77,1382.29 L650.42,1383.92 L650.06,1385.39 L649.70,1386.87 L649.32,1388.52 L648.92,1389.78 L648.50,1391.07 L647.77,1392.59 L647.00,1394.13 L646.18,1395.40 L645.35,1396.40 L644.50,1397.47 L643.61,1398.99 L642.67,1400.11 L640.00,1400.91 L639.52,1400.87 L639.78,1400.93 L640.54,1401.13 L641.54,1401.21 L642.54,1401.20 L643.28,1401.11 L643.50,1401.26 L642.96,1401.26 L641.41,1401.24 L638.59,1401.16 L634.25,1401.21 L628.14,1401.24 L620.00,1401.16 L619.17,1401.08 L618.31,1401.22 L617.44,1401.24 L616.54,1401.21 L615.62,1401.27 L614.68,1401.17 L613.72,1401.20 L612.74,1401.19 L611.74,1401.25 L610.72,1401.32 L609.68,1401.20 L608.62,1401.35 L607.55,1401.32 L606.45,1401.27 L605.34,1401.26 L604.20,1401.34 L603.05,1401.21 L601.89,1401.21 L600.70,1401.15 L599.50,1401.25 L598.28,1401.31 L597.04,1401.26 L595.79,1401.25 L594.52,1401.21 L593.24,1401.23 L591.94,1401.13 L590.63,1401.30 L589.30,1401.20 L587.95,1401.15 L586.59,1401.18 L585.22,1401.17 L583.83,1401.28 L582.43,1401.30 L581.02,1401.14 L579.59,1401.29 L578.15,1401.29 L576.69,1401.19 L575.23,1401.13 L573.75,1401.18 L572.26,1401.19 L570.76,1401.25 L569.25,1401.21 L567.72,1401.09 L566.19,1401.25 L564.64,1401.13 L563.09,1401.29 L561.52,1401.15 L559.94,1401.18 L558.36,1401.17 L556.76,1401.19 L555.16,1401.32 L553.55,1401.29 L551.93,1401.27 L550.30,1401.25 L548.66,1401.12 L547.02,1401.19 L545.37,1401.19 L543.71,1401.16 L542.04,1401.26 L540.37,1401.18 L538.69,1401.18 L537.00,1401.16 L535.31,1401.09 L533.61,1401.27 L531.91,1401.32 L530.20,1401.24 L528.49,1401.16 L526.77,1401.04 L525.05,1401.24 L523.32,1401.31 L521.59,1401.25 L519.86,1401.29 L518.12,1401.32 L516.39,1401.30 L514.64,1401.19 L512.90,1401.29 L511.15,1401.28 L509.40,1401.12 L507.65,1401.20 L505.90,1401.13 L504.15,1401.21 L502.39,1401.26 L500.64,1401.15 L498.88,1401.08 L497.12,1401.31 L495.37,1401.25 L493.61,1401.32 L491.86,1401.13 L490.10,1401.29 L488.35,1401.36 L486.60,1401.35 L484.85,1401.20 L483.10,1401.23 L481.36,1401.21 L479.61,1401.28 L477.87,1401.29 L476.13,1401.22 L474.40,1401.12 L472.67,1401.26 L470.94,1401.18 L469.22,1401.26 L467.50,1401.23 L465.78,1401.32 L464.07,1401.29 L462.37,1401.18 L460.67,1401.23 L458.97,1401.33 L457.29,1401.17 L455.60,1401.24 L453.93,1401.29 L452.26,1401.29 L450.60,1401.24 L448.94,1401.12 L447.29,1401.12 L445.65,1401.22 L444.02,1401.23 L442.40,1401.38 L440.78,1401.15 L439.17,1401.28 L437.57,1401.26 L435.98,1401.09 L434.41,1401.15 L432.83,1401.22 L431.27,1401.17 L429.72,1401.19 L428.19,1401.23 L426.66,1401.15 L425.14,1401.23 L423.63,1401.16 L422.14,1401.17 L420.65,1401.24 L419.18,1401.16 L417.73,1401.22 L416.28,1401.31 L414.85,1401.20 L413.43,1401.19 L412.02,1401.25 L410.63,1401.18 L409.25,1401.27 L407.88,1401.11 L406.53,1401.24 L405.19,1401.17 L403.87,1401.15 L402.57,1401.32 L401.28,1401.14 L400.00,1401.32 L398.15,1401.24 L396.30,1401.30 L394.45,1401.13 L392.59,1401.28 L390.74,1401.30 L388.89,1401.19 L387.04,1401.19 L385.19,1401.37 L383.34,1401.21 L381.49,1401.17 L379.64,1401.16 L377.80,1401.23 L375.95,1401.22 L374.11,1401.21 L372.27,1401.32 L370.44,1401.18 L368.60,1401.23 L366.77,1401.30 L364.94,1401.13 L363.12,1401.27 L361.30,1401.32 L359.48,1401.11 L357.67,1401.13 L355.86,1401.13 L354.06,1401.08 L352.27,1401.23 L350.47,1401.07 L348.69,1401.23 L346.91,1401.30 L345.13,1401.09 L343.36,1401.18 L341.60,1401.07 L339.84,1401.25 L338.09,1401.15 L336.35,1401.18 L334.62,1401.20 L332.89,1401.24 L331.17,1401.18 L329.46,1401.20 L327.76,1401.16 L326.07,1401.21 L324.38,1401.12 L322.71,1401.20 L321.04,1401.07 L319.38,1401.17 L317.74,1401.33 L316.10,1401.21 L314.47,1401.11 L312.86,1401.22 L311.25,1401.13 L309.66,1401.09 L308.07,1401.15 L306.50,1401.25 L304.94,1401.23 L303.39,1401.19 L301.86,1401.14 L300.33,1401.13 L298.82,1401.29 L297.32,1401.22 L295.84,1401.14 L294.37,1401.06 L292.91,1401.11 L291.47,1401.37 L290.04,1401.12 L288.62,1401.19 L287.22,1401.21 L285.84,1401.19 L284.47,1401.18 L283.11,1401.11 L281.77,1401.13 L280.45,1401.31 L279.14,1401.15 L277.85,1401.26 L276.57,1401.09 L275.31,1401.18 L274.07,1401.22 L272.85,1401.27 L271.64,1401.12 L270.45,1401.24 L269.28,1401.23 L268.13,1401.15 L266.99,1401.23 L265.88,1401.14 L264.78,1401.15 L263.70,1401.20 L262.64,1401.02 L261.61,1401.19 L260.59,1401.13 L259.59,1401.10 L258.61,1401.17 L257.65,1401.25 L256.72,1401.17 L255.80,1401.29 L254.91,1401.12 L254.03,1401.11 L253.18,1401.30 L252.35,1401.23 L251.55,1401.26 L250.76,1401.14 L250.00,1401.25" fill="none" stroke="#ec0000" stroke-width="5.0" stroke-linejoin="round" stroke-linecap="round"/>
<path d="M254.00,1401.32 L254.84,1401.44 L255.80,1401.55 L256.89,1401.59 L258.09,1401.58 L259.40,1401.52 L260.80,1401.57 L262.29,1401.55 L263.85,1401.50 L265.49,1401.60 L267.19,1401.75 L268.93,1401.73 L270.72,1401.72 L272.54,1401.70 L274.39,1401.82 L276.25,1401.81 L278.12,1401.90 L279.98,1401.98 L281.84,1401.79 L283.68,1402.01 L285.48,1401.94 L287.25,1402.02 L288.97,1402.03 L290.64,1402.26 L292.24,1402.26 L293.77,1402.29 L295.21,1402.22 L296.57,1402.19 L297.83,1402.31 L298.97,1402.39 L300.00,1402.39 L303.17,1402.58 L305.53,1402.63 L307.25,1402.96 L308.50,1403.00 L309.43,1403.22 L310.22,1403.13 L311.02,1403.08 L312.00,1402.93 L313.97,1402.83 L315.50,1402.50 L316.78,1401.62 L318.00,1400.03 L318.53,1398.97 L319.02,1397.82 L319.48,1396.57 L319.91,1395.04 L320.33,1393.57 L320.74,1391.97 L321.15,1390.14 L321.57,1388.23 L322.00,1386.05 L322.24,1384.84 L322.48,1383.58 L322.72,1382.12 L322.96,1381.01 L323.21,1379.59 L323.45,1378.31 L323.70,1376.82 L323.94,1375.35 L324.18,1373.82 L324.42,1372.28 L324.66,1370.53 L324.90,1368.91 L325.13,1367.43 L325.35,1365.61 L325.58,1363.74 L325.79,1361.88 L326.00,1359.97 L326.13,1359.02 L326.26,1357.46 L326.39,1356.07 L326.52,1354.65 L326.64,1353.09 L326.76,1351.94 L326.88,1350.65 L327.00,1349.16 L327.11,1347.61 L327.23,1346.02 L327.34,1344.43 L327.45,1343.06 L327.56,1341.44 L327.67,1339.78 L327.78,1338.58 L327.89,1336.62 L328.00,1335.05 L328.11,1333.15 L328.22,1332.12 L328.33,1330.17 L328.44,1328.51 L328.55,1326.89 L328.66,1325.01 L328.77,1323.33 L328.89,1321.78 L329.00,1319.85 L329.09,1318.68 L329.18,1317.46 L329.27,1315.97 L329.36,1314.67 L329.45,1313.17 L329.55,1311.86 L329.64,1310.11 L329.73,1308.66 L329.82,1306.86 L329.91,1305.54 L330.00,1303.92 L330.09,1302.54 L330.18,1300.80 L330.27,1299.56 L330.36,1298.53 L330.45,1296.22 L330.55,1294.98 L330.64,1293.44 L330.73,1291.55 L330.82,1290.09 L330.91,1288.47 L331.00,1287.14 L331.09,1285.31 L331.18,1284.57 L331.27,1282.57 L331.36,1281.08 L331.45,1279.80 L331.55,1278.04 L331.64,1276.09 L331.73,1274.68 L331.82,1273.05 L331.91,1271.59 L332.00,1270.28 L332.09,1267.90 L332.18,1266.46 L332.27,1265.32 L332.37,1264.01 L332.46,1262.17 L332.55,1260.71 L332.65,1259.56 L332.74,1257.86 L332.83,1256.05 L332.93,1254.42 L333.02,1252.48 L333.11,1251.55 L333.21,1249.86 L333.30,1247.94 L333.39,1246.87 L333.48,1245.02 L333.58,1243.47 L333.67,1241.46 L333.76,1240.81 L333.85,1238.69 L333.95,1237.54 L334.04,1235.99 L334.13,1234.19 L334.22,1232.87 L334.31,1231.32 L334.40,1229.83 L334.48,1228.53 L334.57,1226.76 L334.66,1225.83 L334.75,1224.19 L334.83,1222.28 L334.92,1221.51 L335.00,1219.81 L335.10,1218.45 L335.21,1215.63 L335.30,1215.07 L335.40,1212.39 L335.49,1211.54 L335.59,1211.49 L335.68,1208.88 L335.77,1207.53 L335.86,1205.26 L335.94,1203.58 L336.03,1202.55 L336.12,1201.29 L336.21,1199.60 L336.29,1197.87 L336.38,1196.32 L336.47,1195.07 L336.57,1194.52 L336.66,1192.31 L336.75,1190.65 L336.85,1189.21 L336.95,1187.37 L337.05,1185.66 L337.16,1184.82 L337.27,1183.83 L337.38,1181.83 L337.50,1179.30 L337.61,1179.29 L337.71,1177.21 L337.83,1176.53 L337.94,1174.01 L338.06,1171.86 L338.18,1171.10 L338.30,1169.33 L338.42,1167.26 L338.55,1165.83 L338.68,1164.40 L338.81,1162.53 L338.94,1161.71 L339.07,1159.93 L339.20,1157.91 L339.33,1156.35 L339.46,1155.43 L339.60,1153.58 L339.73,1151.13 L339.86,1150.37 L339.99,1149.64 L340.12,1147.34 L340.25,1145.21 L340.37,1145.06 L340.50,1144.16 L340.62,1141.47 L340.74,1138.77 L340.86,1137.90 L340.98,1138.47 L341.09,1136.10 L341.20,1135.40 L341.40,1133.20 L341.58,1131.03 L341.76,1130.03 L341.92,1127.48 L342.08,1126.07 L342.24,1124.37 L342.40,1122.86 L342.55,1122.64 L342.71,1119.29 L342.87,1117.87 L343.03,1117.79 L343.20,1115.13 L343.38,1114.54 L343.57,1112.46 L343.78,1112.10 L344.00,1110.04 L344.23,1108.85 L344.48,1106.46 L344.74,1105.17 L345.01,1102.36 L345.28,1102.44 L345.56,1100.57 L345.85,1098.72 L346.14,1097.12 L346.44,1095.27 L346.74,1093.85 L347.04,1093.37 L347.34,1090.45 L347.63,1089.02 L347.93,1088.20 L348.22,1086.53 L348.50,1084.69 L348.87,1084.18 L349.23,1082.50 L349.59,1079.75 L349.94,1079.35 L350.30,1076.04 L350.66,1076.16 L351.02,1072.96 L351.39,1072.65 L351.77,1070.97 L352.16,1069.49 L352.57,1068.70 L353.00,1066.49 L353.61,1064.88 L354.26,1062.97 L354.94,1062.78 L355.65,1060.03 L356.35,1059.02 L357.06,1057.24 L357.74,1056.57 L358.39,1054.14 L359.00,1053.04 L360.00,1051.28 L360.91,1050.12 L361.77,1048.23 L362.62,1047.78 L363.50,1046.93 L365.02,1046.31 L366.54,1045.79 L368.00,1046.30 L370.03,1045.80 L372.00,1046.75 L373.33,1047.87 L374.67,1049.31 L376.00,1049.79 L377.94,1049.90 L380.00,1048.58 L381.56,1047.38 L383.22,1048.83 L385.00,1049.12 L386.45,1049.78 L388.00,1051.12 L389.55,1052.93 L391.00,1053.08 L392.59,1052.15 L394.07,1053.41 L396.00,1053.53 L396.88,1055.63 L397.77,1055.31 L398.71,1056.55 L399.72,1057.59 L400.83,1058.43 L402.06,1059.89 L403.44,1061.27 L405.00,1063.74 L406.07,1063.29 L407.25,1064.21 L408.51,1064.68 L409.84,1065.43 L411.23,1066.22 L412.65,1067.54 L414.10,1065.86 L415.56,1067.89 L417.02,1068.56 L418.46,1070.32 L419.86,1070.25 L421.21,1072.12 L422.50,1073.13 L423.65,1073.15 L424.80,1074.76 L425.92,1075.24 L427.04,1077.06 L428.14,1078.01 L429.23,1079.53 L430.31,1080.48 L431.38,1080.63 L432.43,1083.14 L433.47,1083.48 L434.50,1085.15 L435.51,1085.65 L436.51,1087.12 L437.50,1086.88 L438.84,1089.44 L440.12,1089.18 L441.36,1090.56 L442.56,1091.76 L443.75,1091.49 L444.94,1093.38 L446.15,1094.09 L447.38,1095.53 L448.66,1096.17 L450.00,1096.99 L450.95,1097.95 L451.95,1099.22 L453.00,1100.96 L454.08,1102.08 L455.19,1103.85 L456.30,1105.74 L457.41,1106.15 L458.52,1107.45 L459.60,1109.31 L460.65,1110.69 L461.65,1110.56 L462.60,1112.61 L463.48,1114.15 L464.29,1115.46 L465.00,1115.77 L466.56,1117.40 L467.48,1120.22 L468.12,1118.19 L468.84,1121.65 L470.00,1122.16 L470.65,1123.25 L471.35,1124.48 L472.09,1125.79 L472.87,1126.26 L473.69,1127.26 L474.53,1129.49 L475.40,1131.33 L476.30,1131.84 L477.21,1134.61 L478.13,1134.06 L479.06,1136.58 L480.00,1137.76 L480.81,1139.39 L481.63,1139.26 L482.47,1141.43 L483.32,1142.25 L484.18,1142.31 L485.05,1144.58 L485.94,1145.30 L486.84,1147.17 L487.75,1148.98 L488.67,1149.87 L489.61,1152.22 L490.56,1152.85 L491.52,1153.43 L492.50,1154.82 L493.43,1156.38 L494.39,1156.95 L495.38,1158.81 L496.39,1159.99 L497.41,1161.36 L498.44,1162.12 L499.48,1163.27 L500.52,1163.77 L501.56,1165.65 L502.59,1166.63 L503.61,1167.97 L504.62,1169.25 L505.61,1169.86 L506.57,1171.18 L507.50,1172.20 L508.46,1173.22 L509.40,1174.14 L510.30,1175.74 L511.18,1177.70 L512.05,1177.58 L512.90,1180.14 L513.75,1181.48 L514.60,1182.79 L515.45,1183.45 L516.32,1184.70 L517.20,1186.61 L518.10,1187.75 L519.04,1189.50 L520.00,1189.86 L520.87,1191.03 L521.77,1192.93 L522.69,1193.49 L523.63,1194.83 L524.59,1196.72 L525.55,1197.75 L526.52,1198.50 L527.50,1200.20 L528.48,1201.21 L529.45,1202.96 L530.41,1203.93 L531.37,1204.69 L532.31,1207.05 L533.23,1207.55 L534.13,1208.84 L535.00,1209.79 L535.90,1211.34 L536.78,1212.47 L537.64,1214.14 L538.48,1215.39 L539.31,1216.93 L540.12,1218.03 L540.93,1218.78 L541.73,1219.96 L542.53,1221.18 L543.34,1223.13 L544.15,1223.71 L544.96,1225.84 L545.79,1226.59 L546.64,1227.76 L547.50,1229.11 L548.40,1231.01 L549.34,1231.71 L550.31,1232.90 L551.30,1234.04 L552.31,1235.24 L553.32,1236.97 L554.33,1239.05 L555.33,1240.17 L556.30,1241.03 L557.25,1241.74 L558.15,1244.20 L559.01,1245.12 L559.81,1245.40 L560.54,1247.04 L561.20,1247.67 L562.74,1250.53 L563.79,1251.86 L564.55,1252.53 L565.22,1253.11 L566.00,1255.13 L566.73,1257.51 L567.42,1258.45 L568.10,1259.79 L568.78,1261.91 L569.47,1263.11 L570.20,1265.32 L570.97,1265.77 L571.76,1267.55 L572.56,1269.48 L573.38,1270.72 L574.19,1271.93 L575.00,1272.82 L575.68,1274.55 L576.35,1276.08 L577.03,1277.17 L577.70,1278.69 L578.38,1280.33 L579.08,1281.37 L579.80,1282.96 L580.67,1284.27 L581.58,1285.53 L582.50,1286.90 L583.42,1288.57 L584.33,1290.04 L585.20,1292.06 L585.92,1293.25 L586.62,1294.27 L587.30,1296.57 L587.97,1298.30 L588.65,1299.14 L589.32,1300.80 L590.00,1301.98 L590.81,1303.59 L591.62,1304.74 L592.44,1306.03 L593.24,1307.13 L594.03,1308.25 L594.80,1309.64 L595.51,1310.94 L596.18,1312.36 L596.82,1313.84 L597.49,1315.90 L598.20,1317.14 L599.00,1319.04 L599.58,1319.66 L600.18,1321.15 L600.81,1322.69 L601.46,1324.10 L602.13,1325.36 L602.82,1326.62 L603.53,1327.89 L604.26,1329.60 L605.00,1330.75 L605.69,1332.35 L606.40,1333.59 L607.14,1334.96 L607.89,1336.35 L608.66,1337.65 L609.43,1339.08 L610.20,1340.67 L610.98,1341.87 L611.74,1343.16 L612.50,1344.61 L613.44,1346.03 L614.38,1347.40 L615.31,1348.54 L616.25,1350.15 L617.19,1351.36 L618.12,1352.44 L619.06,1353.71 L620.00,1355.09 L621.07,1356.49 L622.14,1357.67 L623.21,1358.90 L624.29,1360.39 L625.36,1361.49 L626.43,1362.84 L627.50,1364.01 L628.57,1365.23 L629.64,1366.45 L630.71,1367.85 L631.79,1368.90 L632.86,1370.10 L633.93,1371.14 L635.00,1372.37 L636.24,1373.30 L637.47,1374.22 L638.71,1375.24 L639.95,1375.96 L641.21,1376.84 L642.50,1377.40 L644.09,1378.26 L645.72,1378.80 L647.38,1379.26 L649.04,1379.25 L650.70,1379.23 L652.37,1378.95 L654.05,1378.76 L655.73,1378.14 L657.39,1377.62 L659.00,1376.88 L660.30,1375.83 L661.56,1375.08 L662.80,1374.29 L664.03,1372.98 L665.26,1371.86 L666.50,1370.78 L667.43,1369.73 L668.34,1368.48 L669.25,1367.55 L670.16,1366.30 L671.08,1365.09 L672.02,1363.82 L672.99,1362.57 L674.00,1361.09 L674.84,1359.73 L675.70,1358.71 L676.59,1357.36 L677.49,1356.00 L678.41,1354.52 L679.33,1353.10 L680.25,1351.79 L681.18,1350.53 L682.09,1348.99 L683.00,1347.53 L683.82,1346.24 L684.64,1344.91 L685.45,1343.49 L686.27,1342.17 L687.09,1340.54 L687.91,1339.40 L688.73,1338.15 L689.55,1336.67 L690.36,1335.47 L691.18,1334.11 L692.00,1332.46 L692.82,1330.95 L693.64,1329.78 L694.45,1328.20 L695.27,1327.19 L696.09,1325.67 L696.91,1324.44 L697.73,1322.91 L698.55,1321.46 L699.36,1320.51 L700.18,1318.84 L701.00,1317.52 L701.82,1316.18 L702.64,1314.71 L703.45,1313.39 L704.27,1311.84 L705.09,1310.77 L705.91,1309.49 L706.73,1307.88 L707.55,1306.33 L708.36,1305.21 L709.18,1304.05 L710.00,1302.65 L710.75,1301.26 L711.49,1299.66 L712.24,1298.60 L712.98,1297.13 L713.72,1296.00 L714.46,1294.55 L715.21,1292.84 L715.96,1291.72 L716.71,1290.31 L717.47,1289.12 L718.23,1287.90 L719.00,1285.63 L719.72,1284.52 L720.45,1283.16 L721.18,1281.78 L721.92,1280.45 L722.66,1279.56 L723.40,1277.89 L724.15,1276.28 L724.89,1275.05 L725.64,1273.54 L726.39,1271.95 L727.13,1270.72 L727.87,1269.51 L728.60,1268.35 L729.39,1266.29 L730.18,1265.19 L730.96,1263.84 L731.74,1262.46 L732.52,1260.84 L733.30,1259.44 L734.08,1257.71 L734.86,1256.51 L735.64,1255.28 L736.42,1253.91 L737.21,1252.94 L738.00,1251.39 L738.79,1250.03 L739.45,1248.76 L740.04,1248.00 L740.60,1246.48 L741.18,1246.49 L741.82,1244.44 L742.57,1243.51 L743.48,1242.35 L744.59,1240.76 L745.95,1239.06 L747.60,1235.98 L748.25,1235.84 L748.95,1234.49 L749.69,1234.48 L750.48,1232.23 L751.31,1231.87 L752.17,1231.03 L753.07,1229.63 L754.00,1228.56 L754.96,1227.30 L755.94,1226.21 L756.95,1225.19 L757.97,1223.54 L759.01,1222.67 L760.07,1220.92 L761.13,1219.95 L762.21,1217.74 L763.28,1217.53 L764.36,1215.79 L765.44,1214.52 L766.51,1213.62 L767.58,1211.28 L768.64,1209.89 L769.68,1207.93 L770.71,1208.22 L771.72,1206.74 L772.70,1206.19 L773.66,1204.17 L774.60,1203.16 L775.50,1201.89 L776.37,1200.91 L777.21,1199.91 L778.00,1198.55 L779.26,1196.93 L780.45,1195.62 L781.57,1193.89 L782.63,1193.70 L783.64,1191.47 L784.61,1190.50 L785.55,1189.45 L786.45,1188.07 L787.35,1187.93 L788.23,1186.34 L789.11,1185.58 L790.00,1183.38 L790.90,1182.61 L791.83,1180.83 L792.78,1181.35 L793.78,1179.37 L794.83,1178.77 L795.93,1177.85 L797.10,1175.30 L798.03,1175.34 L799.00,1173.86 L799.99,1173.08 L801.01,1171.95 L802.06,1171.03 L803.13,1169.59 L804.22,1167.78 L805.32,1167.00 L806.44,1166.22 L807.56,1165.10 L808.70,1163.48 L809.84,1162.56 L810.98,1161.79 L812.11,1161.23 L813.25,1159.53 L814.37,1158.07 L815.49,1157.41 L816.59,1155.69 L817.68,1155.40 L818.75,1153.37 L819.79,1153.57 L820.81,1151.79 L821.81,1151.88 L822.77,1150.15 L823.70,1149.14 L825.02,1148.23 L826.28,1146.73 L827.51,1145.69 L828.69,1145.64 L829.85,1143.82 L830.97,1142.73 L832.06,1140.26 L833.14,1141.08 L834.20,1139.79 L835.26,1138.39 L836.30,1136.88 L837.34,1135.82 L838.39,1135.25 L839.44,1134.81 L840.51,1134.11 L841.59,1133.31 L842.70,1132.47 L844.09,1131.34 L845.53,1130.17 L847.00,1128.58 L848.50,1129.53 L850.01,1127.95 L851.51,1127.08 L852.99,1125.60 L854.45,1124.09 L855.85,1124.89 L857.20,1122.84 L858.47,1121.83 L859.65,1122.35 L860.73,1122.22 L861.70,1120.73 L864.16,1119.84 L865.61,1119.82 L866.69,1119.44 L868.00,1119.04 L869.75,1118.72 L871.59,1117.93 L873.34,1116.43 L874.80,1116.37 L876.64,1116.76 L878.00,1118.03 L879.18,1118.56 L880.34,1119.29 L881.00,1121.11 L880.98,1121.84 L880.62,1123.79 L880.09,1126.29 L879.50,1128.07 L879.23,1129.43 L878.94,1130.91 L878.62,1132.12 L878.28,1133.11 L877.93,1134.89 L877.57,1137.55 L877.21,1138.61 L876.85,1139.59 L876.50,1142.83 L876.20,1143.13 L875.91,1143.99 L875.64,1147.16 L875.36,1147.66 L875.08,1148.66 L874.78,1150.41 L874.46,1151.89 L874.11,1152.82 L873.73,1155.40 L873.30,1156.67 L873.06,1157.80 L872.80,1158.60 L872.53,1160.77 L872.25,1163.21 L871.96,1162.83 L871.66,1164.50 L871.35,1166.70 L871.04,1168.81 L870.72,1169.30 L870.40,1171.09 L870.08,1172.31 L869.75,1173.93 L869.42,1176.15 L869.09,1177.04 L868.77,1179.33 L868.44,1180.84 L868.12,1181.79 L867.81,1183.07 L867.50,1184.98 L867.20,1185.99 L866.91,1187.66 L866.63,1189.50 L866.35,1191.05 L866.07,1192.37 L865.80,1192.96 L865.53,1195.11 L865.26,1196.99 L864.98,1198.71 L864.70,1200.05 L864.42,1200.27 L864.12,1202.20 L863.82,1203.96 L863.50,1205.25 L863.18,1206.55 L862.83,1208.41 L862.47,1210.77 L862.10,1212.09 L861.70,1214.06 L861.37,1215.42 L861.03,1217.46 L860.67,1218.16 L860.30,1220.00 L859.93,1220.91 L859.54,1222.55 L859.14,1223.45 L858.74,1225.33 L858.33,1226.76 L857.91,1228.94 L857.49,1230.10 L857.07,1231.84 L856.64,1233.38 L856.21,1235.02 L855.78,1235.82 L855.35,1238.38 L854.92,1239.03 L854.49,1241.13 L854.06,1242.94 L853.64,1243.99 L853.22,1246.30 L852.81,1247.39 L852.40,1248.57 L852.00,1249.73 L851.57,1251.16 L851.14,1253.25 L850.71,1254.63 L850.29,1256.26 L849.87,1257.86 L849.45,1259.10 L849.03,1260.68 L848.61,1262.34 L848.19,1263.37 L847.77,1264.98 L847.35,1266.39 L846.93,1268.16 L846.51,1269.42 L846.09,1271.12 L845.67,1272.26 L845.25,1273.48 L844.83,1275.23 L844.41,1276.51 L843.99,1277.77 L843.56,1279.44 L843.13,1280.75 L842.70,1281.90 L842.20,1283.70 L841.69,1285.24 L841.19,1286.78 L840.68,1288.36 L840.17,1289.80 L839.65,1291.46 L839.14,1292.89 L838.62,1294.48 L838.11,1295.79 L837.59,1297.22 L837.08,1298.63 L836.56,1300.01 L836.05,1301.46 L835.53,1302.69 L835.02,1304.19 L834.51,1305.68 L834.01,1306.97 L833.50,1308.60 L833.00,1309.99 L832.44,1311.70 L831.89,1313.17 L831.34,1314.37 L830.79,1316.32 L830.25,1317.89 L829.70,1319.32 L829.16,1320.67 L828.62,1322.32 L828.08,1323.96 L827.54,1325.40 L827.00,1326.84 L826.45,1328.28 L825.91,1329.79 L825.36,1331.03 L824.81,1332.53 L824.26,1333.83 L823.70,1335.28 L823.06,1336.53 L822.42,1338.50 L821.78,1339.81 L821.13,1341.43 L820.48,1342.55 L819.83,1344.22 L819.18,1345.60 L818.52,1346.83 L817.87,1348.12 L817.22,1349.44 L816.57,1350.71 L815.92,1352.21 L815.28,1353.63 L814.64,1354.75 L814.00,1355.97 L813.27,1357.33 L812.55,1358.91 L811.83,1360.41 L811.12,1361.70 L810.41,1363.13 L809.70,1364.39 L809.00,1365.56 L808.29,1367.07 L807.58,1368.50 L806.87,1369.48 L806.15,1371.16 L805.43,1372.28 L804.70,1373.26 L803.83,1374.77 L802.96,1376.13 L802.07,1377.56 L801.19,1378.67 L800.30,1379.99 L799.40,1381.19 L798.51,1382.52 L797.63,1383.66 L796.74,1384.82 L795.87,1385.93 L795.00,1386.94 L793.81,1388.59 L792.61,1389.74 L791.41,1391.08 L790.23,1392.22 L789.05,1393.24 L787.90,1394.16 L786.78,1395.12 L785.70,1395.96 L784.05,1397.13 L782.50,1398.08 L780.99,1398.54 L779.50,1398.90 L778.00,1399.48 L777.50,1399.89 L778.01,1400.18 L778.03,1400.13 L776.03,1400.42 L770.50,1400.71 L769.65,1400.74 L768.75,1400.80 L767.82,1400.63 L766.84,1400.63 L765.83,1400.63 L764.77,1400.56 L763.68,1400.59 L762.55,1400.74 L761.38,1400.82 L760.18,1400.67 L758.94,1400.52 L757.68,1400.77 L756.38,1400.65 L755.04,1400.65 L753.68,1400.63 L752.29,1400.72 L750.87,1400.79 L749.43,1400.69 L747.96,1400.73 L746.46,1400.81 L744.94,1400.72 L743.39,1400.70 L741.82,1400.78 L740.23,1400.83 L738.62,1400.79 L737.00,1400.71 L735.35,1400.80 L733.68,1400.79 L732.00,1400.94 L730.30,1400.75 L728.59,1400.86 L726.87,1400.80 L725.13,1400.84 L723.38,1400.95 L721.62,1401.08 L719.85,1400.87 L718.07,1400.89 L716.28,1400.91 L714.49,1400.89 L712.69,1400.82 L710.88,1400.77 L709.07,1400.83 L707.26,1400.89 L705.45,1400.91 L703.63,1400.84 L701.81,1400.73 L700.00,1400.91 L698.71,1400.87 L697.43,1400.86 L696.16,1400.99 L694.90,1401.08 L693.64,1400.95 L692.39,1401.02 L691.15,1400.73 L689.91,1401.06 L688.67,1400.84 L687.43,1400.89 L686.20,1401.04 L684.97,1400.94 L683.73,1400.93 L682.50,1401.15 L681.27,1401.05 L680.04,1401.09 L678.80,1401.04 L677.56,1400.90 L676.32,1400.99 L675.07,1400.83 L673.81,1401.07 L672.56,1400.93 L671.29,1400.92 L670.02,1400.99 L668.73,1400.89 L667.44,1401.00 L666.14,1400.87 L664.83,1401.03 L663.51,1400.88 L662.18,1400.81 L660.83,1401.17 L659.47,1401.07 L658.09,1400.96 L656.70,1400.86 L655.30,1400.96 L653.88,1400.94 L652.44,1400.92 L650.98,1401.05 L649.51,1400.94 L648.02,1401.08 L646.50,1400.98 L644.97,1401.14 L643.41,1400.89 L641.83,1400.98 L640.23,1401.00 L638.61,1400.89 L636.96,1400.93 L635.28,1400.95 L633.58,1401.05 L631.86,1400.98 L630.10,1401.02 L628.32,1400.89 L626.51,1401.02 L624.67,1400.84 L622.80,1401.05 L620.89,1400.87 L618.96,1401.05 L616.99,1401.00 L614.99,1400.90 L612.96,1400.94 L610.89,1401.01 L608.79,1400.93 L606.65,1400.85 L604.47,1401.14 L602.25,1400.97 L600.00,1401.11 L598.87,1400.98 L597.72,1400.78 L596.55,1401.07 L595.38,1400.99 L594.19,1400.97 L592.98,1401.07 L591.76,1400.91 L590.53,1401.05 L589.29,1400.94 L588.04,1400.93 L586.77,1400.92 L585.49,1400.87 L584.20,1400.89 L582.89,1400.91 L581.58,1401.08 L580.25,1401.04 L578.91,1400.99 L577.56,1401.08 L576.20,1400.90 L574.83,1400.98 L573.45,1401.01 L572.06,1400.95 L570.66,1401.01 L569.25,1401.04 L567.83,1401.10 L566.40,1400.87 L564.96,1400.87 L563.51,1400.91 L562.05,1400.90 L560.59,1400.98 L559.11,1401.00 L557.63,1400.98 L556.14,1401.04 L554.64,1400.95 L553.13,1400.96 L551.62,1400.94 L550.10,1400.95 L548.57,1401.06 L547.04,1401.02 L545.49,1401.08 L543.95,1400.96 L542.39,1400.95 L540.83,1400.91 L539.26,1400.88 L537.69,1401.03 L536.11,1401.10 L534.53,1400.93 L532.94,1401.02 L531.35,1400.92 L529.75,1401.00 L528.15,1401.01 L526.54,1400.97 L524.93,1400.99 L523.32,1400.99 L521.70,1401.09 L520.07,1400.96 L518.45,1401.04 L516.82,1400.83 L515.19,1401.08 L513.55,1400.88 L511.92,1400.95 L510.28,1401.11 L508.64,1400.99 L506.99,1401.12 L505.35,1400.96 L503.70,1401.03 L502.05,1400.89 L500.40,1401.10 L498.75,1400.99 L497.10,1400.93 L495.45,1401.10 L493.79,1401.06 L492.14,1401.04 L490.49,1401.03 L488.84,1400.98 L487.18,1400.93 L485.53,1401.03 L483.88,1400.87 L482.23,1400.88 L480.58,1400.94 L478.93,1401.09 L477.29,1401.05 L475.64,1401.00 L474.00,1400.89 L472.36,1401.05 L470.72,1401.11 L469.09,1400.87 L467.46,1400.92 L465.83,1400.99 L464.20,1401.06 L462.58,1400.85 L460.96,1401.02 L459.34,1400.87 L457.73,1400.93 L456.12,1400.93 L454.52,1400.92 L452.92,1400.95 L451.33,1400.94 L449.74,1400.83 L448.15,1400.94 L446.57,1401.12 L445.00,1401.02 L443.43,1401.01 L441.87,1401.01 L440.31,1401.05 L438.76,1400.91 L437.22,1401.02 L435.68,1401.01 L434.15,1400.97 L432.63,1401.03 L431.11,1400.94 L429.61,1400.96 L428.10,1401.08 L426.61,1400.89 L425.13,1401.03 L423.65,1401.10 L422.18,1401.01 L420.72,1401.04 L419.27,1401.00 L417.83,1400.97 L416.40,1401.09 L414.98,1400.99 L413.56,1400.97 L412.16,1401.08 L410.77,1401.01 L409.38,1401.01 L408.01,1401.13 L406.65,1401.07 L405.29,1400.83 L403.95,1401.21 L402.62,1400.98 L401.31,1401.01 L400.00,1401.11 L398.21,1401.07 L396.43,1401.08 L394.63,1400.97 L392.84,1400.89 L391.04,1401.09 L389.24,1401.00 L387.43,1400.85 L385.63,1401.09 L383.82,1401.03 L382.01,1400.96 L380.20,1400.90 L378.39,1401.10 L376.58,1401.16 L374.77,1401.08 L372.96,1401.12 L371.15,1400.95 L369.34,1401.10 L367.54,1401.10 L365.73,1401.13 L363.93,1401.17 L362.12,1401.03 L360.32,1401.06 L358.52,1400.98 L356.73,1401.06 L354.94,1401.08 L353.15,1401.01 L351.37,1401.11 L349.59,1401.10 L347.81,1400.96 L346.04,1401.09 L344.27,1401.14 L342.51,1401.04 L340.76,1401.09 L339.01,1401.03 L337.26,1400.89 L335.53,1401.09 L333.80,1401.13 L332.08,1400.97 L330.36,1401.33 L328.65,1401.24 L326.96,1401.00 L325.26,1401.18 L323.58,1401.12 L321.91,1401.11 L320.25,1400.97 L318.59,1401.17 L316.95,1401.10 L315.31,1401.02 L313.69,1401.10 L312.08,1401.21 L310.47,1401.05 L308.88,1401.13 L307.31,1401.13 L305.74,1401.13 L304.18,1401.24 L302.64,1401.19 L301.11,1401.26 L299.60,1401.08 L298.10,1401.08 L296.61,1401.05 L295.13,1401.12 L293.67,1401.23 L292.23,1401.01 L290.80,1401.23 L289.38,1401.22 L287.98,1401.12 L286.60,1401.12 L285.23,1401.28 L283.88,1401.34 L282.55,1401.05 L281.23,1401.30 L279.93,1401.14 L278.65,1401.20 L277.39,1401.08 L276.14,1401.14 L274.91,1401.11 L273.71,1401.23 L272.52,1401.17 L271.35,1401.19 L270.20,1401.03 L269.07,1401.23 L267.96,1401.12 L266.88,1401.16 L265.81,1401.18 L264.77,1401.26 L263.74,1401.11 L262.74,1401.23 L261.76,1401.25 L260.80,1401.12 L259.87,1401.25 L258.96,1401.17 L258.07,1401.26 L257.21,1401.06 L256.37,1401.18 L255.56,1401.11 L254.77,1401.22 L254.00,1401.06" fill="none" stroke="#0255ad" stroke-width="5.0" stroke-linejoin="round" stroke-linecap="round"/>
<rect x="246.5" y="945.5" width="236.8" height="191.2" fill="none" stroke="#3a3a3a" stroke-width="1.15" stroke-dasharray="3.6,2.6"/>
<text transform="translate(99.29,258.1) scale(1.0,1.04)" font-size="39" fill="#000" style="fill:#000">0.0</text>
<text transform="translate(76.51,527.9) scale(1.0,1.04)" font-size="39" fill="#000" style="fill:#000">−0.<tspan style="fill:none">0</tspan></text><path d="M763,0 L583,0 L583,1147 Q518,1085 412,1023 Q307,961 223,930 L223,1104 Q374,1175 487,1276 Q600,1377 647,1466 L763,1466 Z" transform="translate(131.82,527.9) scale(0.01904,-0.01904)" fill="#000"/>
<text transform="translate(76.51,797.7) scale(1.0,1.04)" font-size="39" fill="#000" style="fill:#000">−0.2</text>
<text transform="translate(131.82,1413.2) scale(1.0,1.04)" font-size="39" fill="#000" style="fill:#000">0</text>
<text transform="translate(88.45,1252.4) scale(1.0,1.04)" font-size="39" fill="#000" style="fill:#000">200</text>
<text transform="translate(88.45,1091.6) scale(1.0,1.04)" font-size="39" fill="#000" style="fill:#000">400</text>
<text transform="translate(165.27,1478.5) scale(1.0,1.04)" font-size="39" fill="#000" style="fill:#000">−2</text>
<text transform="translate(397.47,1478.5) scale(1.0,1.04)" font-size="39" fill="#000" style="fill:#000">−<tspan style="fill:none">0</tspan></text><path d="M763,0 L583,0 L583,1147 Q518,1085 412,1023 Q307,961 223,930 L223,1104 Q374,1175 487,1276 Q600,1377 647,1466 L763,1466 Z" transform="translate(420.25,1478.5) scale(0.01904,-0.01904)" fill="#000"/>
<text transform="translate(641.06,1478.5) scale(1.0,1.04)" font-size="39" fill="#000" style="fill:#000">0</text>
<text transform="translate(873.26,1478.5) scale(1.0,1.04)" font-size="39" fill="#000" style="fill:#000"><tspan style="fill:none">0</tspan></text><path d="M763,0 L583,0 L583,1147 Q518,1085 412,1023 Q307,961 223,930 L223,1104 Q374,1175 487,1276 Q600,1377 647,1466 L763,1466 Z" transform="translate(873.26,1478.5) scale(0.01904,-0.01904)" fill="#000"/>
<text transform="translate(263.39,92.6) scale(1.0,1.04)" font-size="39" fill="#000" style="fill:#000"><tspan style="fill:none">0</tspan>.0</text><path d="M763,0 L583,0 L583,1147 Q518,1085 412,1023 Q307,961 223,930 L223,1104 Q374,1175 487,1276 Q600,1377 647,1466 L763,1466 Z" transform="translate(263.39,92.6) scale(0.01904,-0.01904)" fill="#000"/>
<text transform="translate(475.59,92.6) scale(1.0,1.04)" font-size="39" fill="#000" style="fill:#000">0.5</text>
<text transform="translate(620.39,92.6) scale(1.0,1.04)" font-size="39" fill="#000" style="fill:#000">0.0</text>
<text transform="translate(523,28) scale(1.12,0.9)" font-size="39" font-style="italic">μ</text>
<text transform="translate(543.7,38.3) scale(1,1.04)" font-size="25">e</text>
<text transform="translate(569.9,28) scale(1,1.04)" font-size="39">(eV)</text>
<text transform="translate(481,1525) scale(1,1.04)" font-size="39" font-style="italic">V</text>
<text transform="translate(504,1534.8) scale(1.12,1.04)" font-size="26.5">G</text>
<rect x="537.8" y="1513.6" width="10" height="3.7" fill="#000"/>
<text transform="translate(561.5,1525) scale(1,1.04)" font-size="39" font-style="italic">V</text>
<text transform="translate(585.5,1534.8) scale(1.08,1.04)" font-size="26.5">NP</text>
<text transform="translate(632,1525) scale(1,1.04)" font-size="39">(V)</text>
<text transform="translate(35,777.3) rotate(-90) scale(0.995,1.04)" font-size="39">Electrochemical current (mA cm<tspan font-size="27.5" dy="-14">-2</tspan><tspan dy="14">)</tspan></text>
<text transform="translate(32.2,1418.3) rotate(-90) scale(0.9935,1.04)" font-size="39">Electronic conductance (μS)</text>
<path d="M655.10,487.39 L655.55,490.21 L656.00,483.09 L656.45,487.46 L656.90,488.56 L657.35,492.23 L657.80,489.45 L658.25,485.10 L658.70,492.86 L659.15,488.18 L659.60,483.67 L660.05,487.73 L660.50,482.43 L660.95,479.58 L661.40,472.87 L661.85,473.01 L662.30,477.52 L662.75,485.94 L663.20,482.63 L663.65,485.25 L664.10,487.70 L664.55,491.40 L665.00,490.39 L665.45,491.23 L665.90,486.56 L666.35,489.93 L666.80,495.56 L667.25,483.69 L667.70,492.57 L668.15,491.04 L668.60,489.16 L669.05,486.10 L669.50,483.87 L669.95,489.09 L670.40,490.03 L670.85,495.47 L671.30,486.21 L671.75,484.55 L672.20,485.88 L672.65,489.53 L673.10,484.96 L673.55,480.26 L674.00,484.25 L674.45,483.53 L674.90,483.65 L675.35,486.06 L675.80,478.93 L676.25,482.79 L676.70,480.79 L677.15,479.32 L677.60,479.63 L678.05,472.05 L678.50,476.90 L678.95,471.74 L679.40,465.73 L679.85,458.22 L680.30,455.05 L680.75,448.57 L681.20,450.80 L681.65,439.43 L682.10,431.15 L682.55,425.73 L683.00,424.63 L683.45,421.67 L683.90,411.73 L684.35,410.96 L684.80,400.64 L685.25,403.82 L685.70,401.18 L686.15,393.55 L686.60,392.10 L687.05,396.47 L687.50,390.40 L687.95,390.40 L688.40,393.90 L688.85,395.48 L689.30,399.75 L689.75,404.80 L690.20,411.13 L690.65,415.14 L691.10,421.53 L691.55,432.22 L692.00,429.95 L692.45,441.09 L692.90,443.21 L693.35,445.82 L693.80,451.32 L694.25,452.93 L694.70,461.49 L695.15,463.37 L695.60,458.89 L696.05,464.74 L696.50,465.48 L696.95,462.12 L697.40,468.86 L697.85,469.39 L698.30,479.83 L698.75,476.96 L699.20,477.05 L699.65,480.92 L700.10,482.47 L700.55,482.97 L701.00,484.33 L701.45,484.78 L701.90,488.96 L702.35,488.47 L702.80,483.34 L703.25,482.97 L703.70,482.71 L704.15,487.39 L704.60,485.64 L705.05,483.61 L705.50,487.85 L705.95,484.50 L706.40,493.05 L706.85,487.77 L707.30,482.95 L707.75,487.53 L708.20,485.05 L708.65,483.13 L709.10,486.92 L709.55,482.05 L710.00,489.08 L710.45,487.95 L710.90,482.37 L711.35,489.51 L711.80,487.48 L712.25,489.04 L712.70,490.46 L713.15,496.46 L713.60,485.59 L714.05,490.73 L714.50,485.40 L714.95,481.19 L715.40,486.90 L715.85,484.97 L716.30,479.64 L716.75,487.56 L717.20,489.52 L717.65,490.56 L718.10,483.15 L718.55,481.84 L719.00,480.86 L719.45,477.74 L719.90,477.05 L720.35,474.39 L720.80,467.60 L721.25,460.15 L721.70,458.11 L722.15,455.42 L722.60,442.69 L723.05,432.83 L723.50,428.67 L723.95,423.66 L724.40,402.81 L724.85,400.38 L725.30,397.00 L725.75,390.40 L726.20,391.65 L726.65,397.67 L727.10,390.40 L727.55,396.57 L728.00,412.00 L728.45,424.52 L728.90,421.14 L729.35,433.80 L729.80,443.08 L730.25,448.94 L730.70,466.41 L731.15,466.27 L731.60,468.50 L732.05,475.63 L732.50,483.23 L732.95,480.17 L733.40,479.34 L733.85,483.83 L734.30,484.89 L734.75,486.09 L735.20,486.72 L735.65,490.17 L736.10,484.89 L736.55,484.20 L737.00,488.40 L737.45,490.66 L737.90,487.71 L738.35,484.70 L738.80,480.98 L739.25,486.43 L739.70,482.58 L740.15,490.19 L740.60,481.71 L741.05,487.26 L741.50,485.27 L741.95,486.99 L742.40,484.13 L742.85,484.24 L743.30,490.04 L743.75,486.72 L744.20,487.04 L744.65,480.97 L745.10,482.44 L745.55,477.68 L746.00,471.23 L746.45,474.22 L746.90,471.04 L747.35,472.89 L747.80,479.13 L748.25,484.13 L748.70,488.06 L749.15,483.88 L749.60,486.22 L750.05,489.26 L750.50,484.10 L750.95,483.88 L751.40,478.82 L751.85,487.38 L752.30,493.59 L752.75,485.81 L753.20,492.18 L753.65,485.90 L754.10,474.90 L754.55,477.37 L755.00,480.61 L755.45,479.86 L755.90,481.00 L756.35,482.79 L756.80,485.77 L757.25,490.17 L757.70,481.93 L758.15,483.61 L758.60,487.56 L759.05,489.11 L759.50,485.50 L759.95,491.22 L760.40,485.68 L760.85,491.36 L761.30,487.83 L761.75,489.57 L762.20,473.88 L762.65,473.10 L763.10,484.33 L763.55,492.45 L764.00,471.23 L764.45,489.49 L764.90,478.25 L765.35,487.65 L765.80,483.37 L766.25,491.50 L766.70,484.02 L767.15,482.00 L767.60,480.46 L768.05,486.37 L768.50,486.12 L768.95,492.55 L769.40,490.51 L769.85,494.98 L770.30,480.87 L770.75,473.70 L771.20,490.94 L771.65,491.35 L772.10,491.58 L772.55,477.91 L773.00,475.86 L773.45,486.01 L773.90,489.16 L774.35,498.52 L774.80,486.39 L775.25,474.70 L775.70,497.37 L776.15,484.27 L776.60,472.25 L777.05,490.98 L777.50,498.74 L777.95,487.97 L778.40,486.30 L778.85,477.81 L779.30,498.30 L779.75,483.28 L780.20,510.30 L780.65,487.50 L781.10,494.59 L781.55,488.54 L782.00,479.37 L782.45,506.39 L782.90,480.03 L783.35,481.80 L783.80,469.11 L784.25,501.75 L784.70,483.53 L785.15,487.61 L785.60,497.77 L786.05,481.35 L786.50,482.05 L786.95,485.68 L787.40,485.00 L787.85,481.33 L788.30,499.78 L788.75,497.73 L789.20,478.80 L789.65,491.55 L790.10,499.25 L790.55,489.80 L791.00,477.61 L791.45,485.06 L791.90,489.26 L792.35,480.06 L792.80,480.35 L793.25,481.62 L793.70,477.32 L794.15,478.74 L794.60,489.21 L795.05,490.05 L795.50,480.69 L795.95,490.06 L796.40,483.84 L796.85,485.04 L797.30,490.28 L797.75,493.13 L798.20,489.77 L798.65,486.05 L799.10,489.03 L799.55,486.61 L800.00,485.68 L800.45,486.89 L800.90,492.99 L801.35,494.01 L801.80,490.87 L802.25,487.71 L802.70,501.70 L803.15,498.73 L803.60,492.38 L804.05,495.38 L804.50,484.96 L804.95,489.96 L805.40,491.33 L805.85,493.87 L806.30,490.54 L806.75,481.89 L807.20,470.84 L807.65,495.18 L808.10,486.07 L808.55,493.28 L809.00,493.36 L809.45,488.15 L809.90,504.00 L810.35,483.55 L810.80,473.93 L811.25,480.61 L811.70,473.56 L812.15,491.11 L812.60,471.57 L813.05,483.78 L813.50,493.80 L813.95,478.91 L814.40,492.83 L814.85,477.35 L815.30,488.02 L815.75,490.56 L816.20,494.85 L816.65,497.18 L817.10,507.05 L817.55,488.68 L818.00,495.19 L818.45,496.29 L818.90,506.71 L819.35,500.72 L819.80,496.31 L820.25,489.50 L820.70,493.67 L821.15,497.61 L821.60,476.68 L822.05,498.66 L822.50,505.32 L822.95,480.16 L823.40,489.31 L823.85,503.44 L824.30,489.19 L824.75,487.17 L825.20,484.11 L825.65,494.15 L826.10,477.30 L826.55,483.15 L827.00,478.53 L827.45,486.09 L827.90,501.00 L828.35,482.44 L828.80,495.96 L829.25,486.08 L829.70,491.25 L830.15,491.44 L830.60,483.69 L831.05,481.62 L831.50,503.85 L831.95,490.25 L832.40,486.21 L832.85,486.46 L833.30,482.96 L833.75,505.22 L834.20,496.17 L834.65,482.66 L835.10,489.93 L835.55,463.05 L836.00,478.25 L836.45,475.88 L836.90,473.55 L837.35,478.36 L837.80,490.33 L838.25,476.91 L838.70,478.48 L839.15,469.84 L839.60,476.51 L840.05,470.09 L840.50,484.46 L840.95,490.47 L841.40,476.59 L841.85,481.19 L842.30,483.62 L842.75,477.53 L843.20,481.49 L843.65,484.12 L844.10,489.89 L844.55,467.01 L845.00,471.12 L845.45,487.41 L845.90,470.71 L846.35,483.30 L846.80,492.86 L847.25,482.67 L847.70,486.41 L848.15,502.72 L848.60,491.41 L849.05,479.47 L849.50,501.91 L849.95,503.68 L850.40,504.91 L850.85,487.87 L851.30,496.28 L851.75,487.79 L852.20,512.08 L852.65,503.03 L853.10,501.70 L853.55,500.08 L854.00,494.31 L854.45,507.95 L854.90,506.71 L855.35,490.12 L855.80,510.56 L856.25,503.35 L856.70,494.96 L857.15,487.53 L857.60,493.72 L858.05,495.61 L858.50,506.06 L858.95,483.20 L859.40,500.67 L859.85,492.91 L860.30,505.37 L860.75,486.64 L861.20,481.78 L861.65,478.26 L862.10,475.77 L862.55,474.14 L863.00,481.19 L863.45,488.89 L863.90,483.51 L864.35,499.35 L864.80,492.75 L865.25,479.82 L865.70,478.75 L866.15,479.88 L866.60,480.11 L867.05,478.67 L867.50,494.11 L867.95,492.04 L868.40,494.61 L868.85,475.79 L869.30,497.81 L869.75,507.72 L870.20,501.13 L870.65,500.08 L871.10,486.84 L871.55,482.07 L872.00,502.93 L872.45,506.05 L872.90,492.06 L873.35,501.23 L873.80,485.67 L874.25,506.90 L874.70,516.74 L875.15,509.45 L875.60,513.32 L876.05,510.94 L876.50,490.58 L876.95,499.65 L877.40,495.63 L877.85,498.02 L878.30,490.71 L878.75,485.23 L879.20,483.86 L879.65,470.03 L880.10,475.63 L880.55,449.31 L881.00,454.03 L881.45,449.13 L881.90,440.06 L882.35,438.96 L882.80,452.77 L883.25,455.98 L883.70,478.36 L884.15,487.33 L884.60,493.15 L885.05,488.74 L885.50,512.34 L885.95,505.07 L886.40,508.61 L886.85,509.58 L887.30,502.38 L887.75,508.04 L888.20,512.31 L888.65,506.94 L889.10,494.20 L889.55,493.83 L890.00,493.12 L890.45,508.95 L890.90,502.12 L891.35,487.90 L891.80,498.44 L892.25,499.23 L892.70,498.20 L893.15,487.96 L893.60,495.18 L894.05,504.24 L894.50,502.67 L894.95,490.65 L895.40,516.21 L895.85,490.62 L896.30,489.79 L896.75,476.98 L897.20,479.09 L897.65,484.98 L898.10,491.07 L898.55,496.07 L899.00,490.72 L899.45,492.02" fill="none" stroke="#0255ad" stroke-width="2.5" stroke-linejoin="round"/>
<path d="M655.10,584.85 L655.80,586.15 L656.50,586.03 L657.20,585.22 L657.90,585.85 L658.60,584.88 L659.30,587.65 L660.00,586.99 L660.70,586.27 L661.40,583.61 L662.10,583.74 L662.80,584.44 L663.50,585.11 L664.20,586.22 L664.90,584.07 L665.60,587.38 L666.30,585.51 L667.00,582.28 L667.70,584.74 L668.40,581.36 L669.10,584.30 L669.80,584.62 L670.50,584.52 L671.20,584.98 L671.90,584.86 L672.60,584.53 L673.30,587.86 L674.00,587.36 L674.70,583.51 L675.40,587.21 L676.10,582.37 L676.80,583.26 L677.50,586.36 L678.20,579.32 L678.90,582.29 L679.60,577.15 L680.30,575.82 L681.00,571.58 L681.70,569.19 L682.40,558.49 L683.10,551.73 L683.80,543.84 L684.50,532.74 L685.20,521.96 L685.90,513.81 L686.60,505.88 L687.30,500.86 L688.00,494.11 L688.70,493.87 L689.40,497.00 L690.10,500.83 L690.80,507.74 L691.50,516.65 L692.20,525.21 L692.90,535.00 L693.60,546.61 L694.30,552.98 L695.00,564.31 L695.70,569.25 L696.40,572.04 L697.10,578.54 L697.80,581.35 L698.50,584.48 L699.20,586.66 L699.90,585.29 L700.60,585.48 L701.30,586.14 L702.00,585.89 L702.70,586.50 L703.40,588.30 L704.10,587.96 L704.80,587.20 L705.50,586.80 L706.20,588.50 L706.90,587.07 L707.60,586.11 L708.30,587.41 L709.00,587.08 L709.70,585.62 L710.40,588.48 L711.10,588.31 L711.80,586.81 L712.50,586.72 L713.20,587.05 L713.90,585.76 L714.60,586.66 L715.30,587.02 L716.00,583.20 L716.70,581.84 L717.40,579.71 L718.10,573.82 L718.80,567.24 L719.50,563.65 L720.20,551.29 L720.90,546.89 L721.60,534.67 L722.30,522.52 L723.00,511.75 L723.70,505.37 L724.40,494.29 L725.10,490.23 L725.80,490.87 L726.50,494.64 L727.20,499.81 L727.90,510.48 L728.60,520.84 L729.30,530.35 L730.00,545.03 L730.70,550.15 L731.40,558.92 L732.10,568.59 L732.80,573.14 L733.50,578.21 L734.20,579.44 L734.90,580.74 L735.60,582.63 L736.30,583.36 L737.00,585.77 L737.70,584.43 L738.40,586.57 L739.10,586.37 L739.80,587.13 L740.50,586.93 L741.20,586.75 L741.90,586.73 L742.60,584.67 L743.30,585.08 L744.00,582.57 L744.70,585.97 L745.40,584.42 L746.10,586.14 L746.80,586.34 L747.50,583.34 L748.20,583.88 L748.90,584.94 L749.60,584.67 L750.30,585.77 L751.00,583.65 L751.70,585.58 L752.40,582.80 L753.10,582.05 L753.80,586.65 L754.50,583.41 L755.20,584.60 L755.90,583.23 L756.60,583.25 L757.30,584.86 L758.00,584.84 L758.70,587.07 L759.40,586.22 L760.10,585.08 L760.80,586.71 L761.50,587.29 L762.20,586.16 L762.90,584.85 L763.60,587.13 L764.30,588.33 L765.00,586.56 L765.70,588.33 L766.40,586.98 L767.10,586.86 L767.80,583.76 L768.50,583.72 L769.20,585.42 L769.90,582.83 L770.60,584.55 L771.30,586.89 L772.00,584.44 L772.70,586.35 L773.40,583.34 L774.10,584.71 L774.80,587.14 L775.50,585.83 L776.20,585.96 L776.90,588.23 L777.60,587.57 L778.30,584.10 L779.00,587.61 L779.70,584.52 L780.40,585.47 L781.10,585.52 L781.80,587.22 L782.50,583.69 L783.20,586.22 L783.90,586.34 L784.60,586.80 L785.30,585.16 L786.00,587.11 L786.70,584.36 L787.40,587.34 L788.10,586.06 L788.80,583.26 L789.50,586.15 L790.20,585.79 L790.90,584.93 L791.60,584.32 L792.30,585.12 L793.00,583.19 L793.70,588.21 L794.40,583.69 L795.10,584.44 L795.80,587.33 L796.50,586.44 L797.20,586.65 L797.90,587.93 L798.60,585.00 L799.30,583.83 L800.00,586.85 L800.70,586.77 L801.40,584.98 L802.10,583.48 L802.80,587.48 L803.50,586.42 L804.20,583.30 L804.90,586.75 L805.60,583.19 L806.30,584.73 L807.00,583.70 L807.70,584.48 L808.40,584.17 L809.10,584.52 L809.80,586.66 L810.50,585.97 L811.20,586.51 L811.90,587.25 L812.60,584.90 L813.30,585.63 L814.00,586.36 L814.70,588.23 L815.40,586.94 L816.10,587.71 L816.80,587.13 L817.50,587.19 L818.20,582.64 L818.90,586.91 L819.60,585.84 L820.30,585.59 L821.00,584.66 L821.70,584.82 L822.40,586.17 L823.10,586.84 L823.80,583.10 L824.50,585.85 L825.20,584.60 L825.90,583.98 L826.60,586.13 L827.30,584.97 L828.00,584.45 L828.70,584.27 L829.40,585.95 L830.10,585.48 L830.80,583.75 L831.50,584.15 L832.20,585.21 L832.90,586.15 L833.60,583.82 L834.30,586.28 L835.00,584.18 L835.70,589.86 L836.40,583.99 L837.10,584.24 L837.80,585.81 L838.50,584.06 L839.20,586.82 L839.90,588.38 L840.60,584.88 L841.30,585.78 L842.00,584.67 L842.70,585.50 L843.40,587.79 L844.10,586.93 L844.80,584.05 L845.50,587.97 L846.20,587.36 L846.90,586.28 L847.60,584.45 L848.30,585.61 L849.00,584.23 L849.70,586.25 L850.40,584.99 L851.10,581.92 L851.80,586.98 L852.50,585.81 L853.20,587.23 L853.90,585.28 L854.60,585.80 L855.30,587.28 L856.00,586.12 L856.70,585.96 L857.40,590.64 L858.10,585.22 L858.80,585.75 L859.50,588.24 L860.20,584.15 L860.90,583.73 L861.60,583.03 L862.30,586.08 L863.00,586.09 L863.70,586.08 L864.40,582.48 L865.10,585.92 L865.80,585.82 L866.50,583.27 L867.20,582.92 L867.90,583.33 L868.60,582.19 L869.30,581.96 L870.00,578.55 L870.70,579.40 L871.40,577.19 L872.10,579.67 L872.80,579.10 L873.50,577.76 L874.20,578.11 L874.90,574.89 L875.60,578.51 L876.30,576.16 L877.00,576.88 L877.70,578.23 L878.40,575.04 L879.10,578.01 L879.80,576.21 L880.50,576.07 L881.20,577.04 L881.90,574.42 L882.60,577.75 L883.30,577.41 L884.00,579.59 L884.70,578.28 L885.40,578.79 L886.10,580.73 L886.80,580.81 L887.50,579.75 L888.20,582.00 L888.90,584.94 L889.60,583.30 L890.30,582.51 L891.00,585.43 L891.70,581.62 L892.40,581.44 L893.10,585.01 L893.80,585.45 L894.50,585.62 L895.20,583.91 L895.90,585.15 L896.60,583.19 L897.30,585.81 L898.00,582.89 L898.70,585.24 L899.40,585.91" fill="none" stroke="#ec0000" stroke-width="2.4" stroke-linejoin="round"/>
<path d="M654.5,390.4 L654.5,594.7 L900,594.7" fill="none" stroke="#333" stroke-width="1.3"/>
<line x1="683.4" y1="594.7" x2="683.4" y2="597.5" stroke="#333" stroke-width="1.1"/>
<line x1="702.1" y1="594.7" x2="702.1" y2="597.5" stroke="#333" stroke-width="1.1"/>
<line x1="720.8" y1="594.7" x2="720.8" y2="597.5" stroke="#333" stroke-width="1.1"/>
<line x1="739.6" y1="594.7" x2="739.6" y2="597.5" stroke="#333" stroke-width="1.1"/>
<line x1="758.3" y1="594.7" x2="758.3" y2="597.5" stroke="#333" stroke-width="1.1"/>
<line x1="777.0" y1="594.7" x2="777.0" y2="597.5" stroke="#333" stroke-width="1.1"/>
<line x1="795.7" y1="594.7" x2="795.7" y2="597.5" stroke="#333" stroke-width="1.1"/>
<line x1="814.4" y1="594.7" x2="814.4" y2="597.5" stroke="#333" stroke-width="1.1"/>
<line x1="833.2" y1="594.7" x2="833.2" y2="597.5" stroke="#333" stroke-width="1.1"/>
<line x1="851.9" y1="594.7" x2="851.9" y2="597.5" stroke="#333" stroke-width="1.1"/>
<line x1="870.6" y1="594.7" x2="870.6" y2="597.5" stroke="#333" stroke-width="1.1"/>
<line x1="889.3" y1="594.7" x2="889.3" y2="597.5" stroke="#333" stroke-width="1.1"/>
<text transform="translate(652.84,623.2) scale(1.05,1.0)" font-size="26" fill="#000" style="fill:#000"><tspan style="fill:none">0</tspan>300</text><path d="M763,0 L583,0 L583,1147 Q518,1085 412,1023 Q307,961 223,930 L223,1104 Q374,1175 487,1276 Q600,1377 647,1466 L763,1466 Z" transform="translate(652.84,623.2) scale(0.01333,-0.01221)" fill="#000"/>
<text transform="translate(746.54,623.2) scale(1.05,1.0)" font-size="26" fill="#000" style="fill:#000"><tspan style="fill:none">0</tspan>950</text><path d="M763,0 L583,0 L583,1147 Q518,1085 412,1023 Q307,961 223,930 L223,1104 Q374,1175 487,1276 Q600,1377 647,1466 L763,1466 Z" transform="translate(746.54,623.2) scale(0.01333,-0.01221)" fill="#000"/>
<text transform="translate(837.24,623.2) scale(1.05,1.0)" font-size="26" fill="#000" style="fill:#000">2600</text>
<text transform="translate(670.3,647.5) scale(1.04,1.0)" font-size="26">Raman shift (cm<tspan font-size="17" dy="-9">-1</tspan><tspan dy="9">)</tspan></text>
<text transform="translate(645.5,605.3) rotate(-90) scale(1,1.04)" font-size="26.5">Intensity (arb. u.)</text>
<text transform="translate(740.5,451.3) scale(1.05,1.0)" font-size="26" style="fill:#0255ad">Deuterated</text>
<text transform="translate(734.8,562.3) scale(1.025,1.0)" font-size="26" style="fill:#ec0000">Hydrogenated</text>
<rect x="553" y="688" width="418" height="292" fill="#fff"/>
<clipPath id="c2"><rect x="576.6" y="741.7" width="379.69999999999993" height="192.0999999999999"/></clipPath>
<g clip-path="url(#c2)">
<path d="M574.00,808.03 L576.60,807.40 L577.58,806.47 L578.73,806.07 L580.02,806.02 L581.45,805.96 L583.00,805.08 L584.64,804.12 L586.37,803.73 L588.16,803.45 L590.00,803.29 L591.33,802.70 L592.75,802.28 L594.25,802.01 L595.80,801.82 L597.39,801.23 L599.02,801.14 L600.66,800.91 L602.30,801.00 L603.92,800.19 L605.52,800.19 L607.08,799.30 L608.57,799.56 L610.00,799.06 L611.81,798.46 L613.62,798.19 L615.41,798.03 L617.17,797.24 L618.88,797.22 L620.51,796.98 L622.06,796.65 L623.50,796.33 L624.82,795.22 L626.00,795.51 L628.06,795.16 L629.25,795.98 L630.31,796.06 L632.00,796.08 L633.19,795.90 L634.48,795.23 L635.88,794.98 L637.38,794.24 L638.94,794.54 L640.58,793.29 L642.27,792.98 L644.00,792.09 L645.43,791.95 L646.91,791.94 L648.44,792.26 L650.02,792.11 L651.62,791.83 L653.26,791.43 L654.93,792.04 L656.61,791.05 L658.30,790.94 L660.00,791.15 L661.45,790.53 L662.95,790.69 L664.50,790.66 L666.07,790.11 L667.66,790.00 L669.25,789.63 L670.82,789.18 L672.37,788.22 L673.88,788.60 L675.32,788.80 L676.70,788.20 L678.00,788.44 L679.73,788.66 L681.23,789.08 L682.59,788.45 L683.88,788.90 L685.18,789.37 L686.58,789.71 L688.16,789.39 L690.00,790.56 L691.31,789.89 L692.76,790.59 L694.31,790.36 L695.96,790.69 L697.66,791.22 L699.38,791.09 L701.11,791.07 L702.82,790.88 L704.47,791.11 L706.04,790.99 L707.50,792.10 L708.83,791.11 L710.00,790.85 L712.30,792.02 L713.87,791.63 L715.09,790.81 L716.34,790.91 L718.00,790.37 L719.25,790.56 L720.53,791.08 L721.86,791.32 L723.25,791.37 L724.74,792.31 L726.34,792.36 L728.09,792.45 L730.00,792.26 L731.28,792.73 L732.64,792.63 L734.07,792.72 L735.56,792.97 L737.11,792.54 L738.70,792.76 L740.31,792.90 L741.94,792.77 L743.58,793.37 L745.22,792.23 L746.84,792.83 L748.44,792.64 L750.00,793.19 L751.55,794.25 L753.10,793.37 L754.66,794.20 L756.23,794.96 L757.80,795.30 L759.37,796.07 L760.93,795.88 L762.48,797.17 L764.02,797.11 L765.55,797.52 L767.06,798.49 L768.54,798.84 L770.00,798.79 L771.71,799.04 L773.42,799.43 L775.11,799.63 L776.79,799.68 L778.45,799.49 L780.08,799.14 L781.68,800.26 L783.23,799.96 L784.74,799.60 L786.20,799.60 L787.60,800.00 L789.32,800.32 L790.79,800.05 L792.11,801.36 L793.38,801.35 L794.71,801.43 L796.21,801.98 L797.97,802.33 L800.10,803.02 L801.26,802.99 L802.51,803.58 L803.84,803.95 L805.25,803.70 L806.71,803.97 L808.23,804.17 L809.79,804.70 L811.38,804.89 L812.99,805.45 L814.60,805.88 L816.21,806.27 L817.81,806.08 L819.38,807.05 L820.91,806.92 L822.40,807.24 L823.84,807.35 L825.20,807.11 L826.91,808.00 L828.58,807.57 L830.21,808.56 L831.81,808.35 L833.37,808.88 L834.91,808.68 L836.42,808.75 L837.91,809.00 L839.39,808.62 L840.85,809.16 L842.31,808.74 L843.75,808.95 L845.20,808.80 L846.89,809.34 L848.55,809.57 L850.18,809.42 L851.78,809.39 L853.37,809.98 L854.94,810.34 L856.51,810.41 L858.07,810.41 L859.64,810.74 L861.21,811.15 L862.80,810.72 L864.42,811.62 L866.09,812.53 L867.78,812.04 L869.48,812.69 L871.18,813.60 L872.85,813.66 L874.49,814.07 L876.06,814.11 L877.57,814.11 L878.99,815.72 L880.30,815.29 L882.13,815.85 L883.73,816.88 L885.15,817.27 L886.47,817.65 L887.74,817.86 L889.03,818.61 L890.40,818.96 L891.96,818.96 L893.37,818.84 L894.78,818.63 L896.33,818.74 L898.16,818.58 L900.40,819.12 L901.63,819.53 L903.00,819.59 L904.48,819.82 L906.06,820.64 L907.70,820.76 L909.39,820.53 L911.09,821.19 L912.79,821.91 L914.46,822.04 L916.09,822.97 L917.63,822.66 L919.08,823.03 L920.40,824.29 L922.14,824.73 L923.75,824.65 L925.24,825.72 L926.65,826.66 L927.98,826.49 L929.27,827.03 L930.52,827.57 L931.75,828.18 L933.00,828.48 L934.54,829.54 L935.97,829.95 L937.34,831.10 L938.68,832.41 L940.04,832.04 L941.46,833.15 L943.00,833.65 L944.51,832.88 L946.18,833.78 L947.94,833.85 L949.72,833.82 L951.44,834.19 L953.02,833.83 L954.40,834.08 L955.50,833.88 L958.00,833.96" fill="none" stroke="#ec0000" stroke-width="4.6" stroke-linejoin="round" stroke-linecap="round"/>
<path d="M662.00,942.16 L662.22,941.08 L662.51,941.08 L662.89,938.68 L663.38,936.62 L664.00,934.14 L664.26,932.74 L664.56,931.45 L664.87,930.51 L665.21,928.78 L665.56,927.67 L665.93,925.79 L666.31,923.69 L666.70,922.20 L667.09,920.69 L667.48,918.68 L667.87,917.64 L668.26,915.97 L668.64,914.79 L669.00,912.73 L669.38,911.35 L669.76,910.01 L670.13,908.47 L670.51,906.32 L670.88,905.53 L671.25,903.28 L671.63,902.28 L672.00,900.26 L672.39,898.69 L672.78,896.93 L673.18,895.81 L673.58,895.16 L674.00,892.80 L674.50,891.86 L675.00,890.18 L675.51,888.06 L676.02,886.99 L676.55,885.56 L677.08,883.55 L677.63,882.04 L678.19,881.17 L678.77,879.60 L679.38,878.88 L680.00,877.14 L680.90,875.09 L681.86,874.04 L682.85,872.39 L683.88,871.80 L684.91,870.64 L685.95,869.16 L686.99,867.88 L688.00,867.28 L689.01,865.70 L690.05,865.02 L691.09,863.16 L692.12,862.23 L693.15,861.01 L694.14,859.76 L695.10,859.88 L696.00,858.53 L697.12,856.49 L698.15,855.68 L699.12,853.66 L700.07,853.48 L701.02,852.35 L702.00,850.89 L703.22,849.70 L704.45,848.72 L705.67,847.75 L706.86,846.71 L708.00,846.13 L709.67,846.88 L711.22,848.18 L713.00,849.25 L714.16,848.64 L715.32,847.87 L716.60,846.31 L718.12,845.89 L720.00,845.48 L721.29,845.44 L722.78,845.66 L724.41,845.78 L726.13,845.65 L727.87,846.74 L729.59,847.09 L731.22,847.02 L732.71,847.79 L734.00,847.71 L735.85,848.58 L737.30,850.19 L738.54,852.02 L739.71,852.51 L741.00,852.52 L742.48,852.79 L744.04,851.68 L745.56,850.52 L746.92,849.81 L748.00,848.46 L750.00,848.44 L751.01,848.96 L752.29,850.35 L753.78,850.74 L755.42,851.31 L757.15,852.10 L758.91,853.33 L760.63,854.26 L762.27,854.28 L763.74,855.09 L765.00,856.06 L766.92,855.39 L768.34,854.30 L769.56,853.53 L770.88,852.77 L772.60,853.03 L773.64,853.36 L774.75,853.74 L775.91,854.67 L777.13,855.76 L778.39,856.45 L779.68,857.76 L781.01,858.52 L782.36,860.23 L783.73,861.28 L785.10,861.34 L786.48,862.61 L787.86,863.07 L789.26,863.68 L790.68,864.18 L792.12,864.93 L793.61,865.75 L795.15,865.63 L796.73,866.94 L798.38,867.17 L800.10,867.57 L801.39,868.41 L802.75,869.16 L804.16,869.49 L805.62,870.18 L807.11,870.56 L808.63,871.08 L810.15,872.14 L811.67,872.11 L813.19,873.28 L814.68,873.62 L816.14,873.95 L817.55,874.46 L818.91,874.90 L820.20,875.41 L821.91,875.91 L823.52,876.31 L825.07,876.12 L826.56,876.38 L828.01,877.45 L829.44,877.44 L830.85,877.76 L832.28,878.22 L833.72,878.31 L835.20,879.60 L836.70,879.62 L838.18,880.08 L839.65,880.33 L841.12,881.49 L842.59,882.02 L844.08,882.88 L845.59,883.36 L847.12,883.54 L848.69,884.18 L850.30,885.84 L851.58,885.94 L852.91,886.95 L854.28,887.84 L855.67,889.01 L857.08,890.03 L858.50,890.55 L859.92,891.69 L861.32,892.33 L862.71,893.99 L864.05,894.64 L865.36,894.96 L866.61,896.49 L867.80,896.72 L869.58,896.99 L871.22,897.41 L872.74,897.37 L874.20,897.48 L875.64,897.40 L877.11,897.14 L878.65,897.64 L880.30,897.21 L881.48,898.45 L882.73,899.40 L884.01,900.23 L885.33,901.00 L886.67,901.31 L888.01,902.03 L889.34,903.40 L890.65,905.16 L891.92,905.49 L893.15,906.10 L894.31,906.68 L895.40,908.06 L896.86,909.04 L898.14,910.47 L899.30,911.49 L900.41,911.80 L901.51,913.56 L902.67,914.90 L903.95,915.51 L905.40,916.35 L906.58,917.08 L907.86,917.73 L909.20,919.50 L910.59,919.93 L912.02,919.97 L913.46,921.24 L914.91,921.15 L916.35,921.98 L917.75,922.59 L919.11,923.45 L920.40,924.42 L921.79,925.66 L923.20,926.13 L924.60,926.76 L925.98,927.76 L927.32,928.54 L928.62,929.62 L929.85,930.08 L931.00,931.23 L932.06,932.01 L933.00,932.80 L934.90,933.55 L936.29,934.91 L937.28,935.58 L938.00,935.76" fill="none" stroke="#2f6399" stroke-width="4.6" stroke-linejoin="round" stroke-linecap="round"/>
</g>
<line x1="680.5" y1="741.7" x2="680.5" y2="933.8" stroke="#111" stroke-width="1" stroke-dasharray="3,2"/>
<line x1="713.5" y1="741.7" x2="713.5" y2="933.8" stroke="#111" stroke-width="1" stroke-dasharray="3,2"/>
<rect x="576.6" y="741.7" width="379.69999999999993" height="192.0999999999999" fill="none" stroke="#111" stroke-width="1.3"/>
<line x1="627.6" y1="933.8" x2="627.6" y2="929.5999999999999" stroke="#111" stroke-width="1.2"/>
<line x1="627.6" y1="741.7" x2="627.6" y2="745.9000000000001" stroke="#111" stroke-width="1.2"/>
<line x1="678.2" y1="933.8" x2="678.2" y2="929.5999999999999" stroke="#111" stroke-width="1.2"/>
<line x1="678.2" y1="741.7" x2="678.2" y2="745.9000000000001" stroke="#111" stroke-width="1.2"/>
<line x1="728.8" y1="933.8" x2="728.8" y2="929.5999999999999" stroke="#111" stroke-width="1.2"/>
<line x1="728.8" y1="741.7" x2="728.8" y2="745.9000000000001" stroke="#111" stroke-width="1.2"/>
<line x1="779.4" y1="933.8" x2="779.4" y2="929.5999999999999" stroke="#111" stroke-width="1.2"/>
<line x1="779.4" y1="741.7" x2="779.4" y2="745.9000000000001" stroke="#111" stroke-width="1.2"/>
<line x1="830.0" y1="933.8" x2="830.0" y2="929.5999999999999" stroke="#111" stroke-width="1.2"/>
<line x1="830.0" y1="741.7" x2="830.0" y2="745.9000000000001" stroke="#111" stroke-width="1.2"/>
<line x1="880.6" y1="933.8" x2="880.6" y2="929.5999999999999" stroke="#111" stroke-width="1.2"/>
<line x1="880.6" y1="741.7" x2="880.6" y2="745.9000000000001" stroke="#111" stroke-width="1.2"/>
<line x1="931.2" y1="933.8" x2="931.2" y2="929.5999999999999" stroke="#111" stroke-width="1.2"/>
<line x1="931.2" y1="741.7" x2="931.2" y2="745.9000000000001" stroke="#111" stroke-width="1.2"/>
<line x1="576.6" y1="886.0" x2="581.0" y2="886.0" stroke="#111" stroke-width="1.2"/>
<line x1="576.6" y1="837.7" x2="581.0" y2="837.7" stroke="#111" stroke-width="1.2"/>
<line x1="576.6" y1="789.4" x2="581.0" y2="789.4" stroke="#111" stroke-width="1.2"/>
<text x="627.6" y="969" font-size="34" text-anchor="middle">−1.4</text>
<text x="728.8" y="969" font-size="34" text-anchor="middle">−1.2</text>
<text x="830.0" y="969" font-size="34" text-anchor="middle">−1.0</text>
<text x="931.2" y="969" font-size="34" text-anchor="middle">−0.8</text>
<text x="627.6" y="730" font-size="34" text-anchor="middle">0.9</text>
<text x="728.8" y="730" font-size="34" text-anchor="middle">0.8</text>
<text x="830.0" y="730" font-size="34" text-anchor="middle">0.7</text>
<text x="931.2" y="730" font-size="34" text-anchor="middle">0.6</text>
<text x="572.3" y="800.1" font-size="34" text-anchor="end">500</text>
<text x="572.3" y="896.1" font-size="34" text-anchor="end">400</text>
</svg></body></html>
